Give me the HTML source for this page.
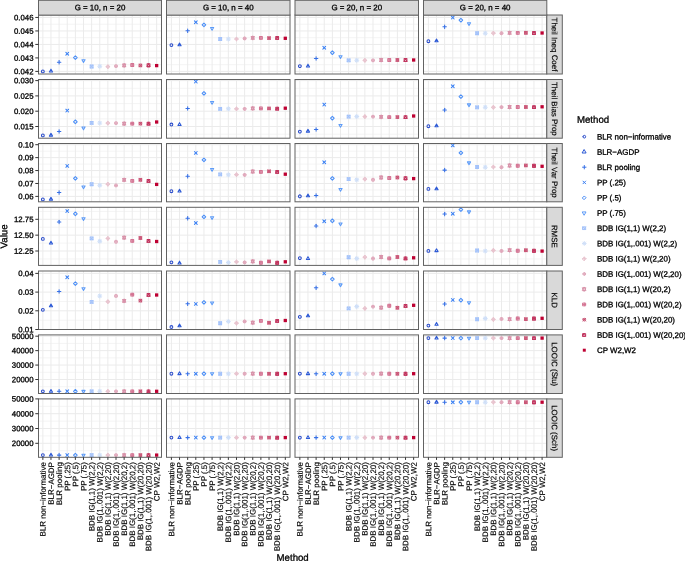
<!DOCTYPE html><html><head><meta charset="utf-8"><style>html,body{margin:0;padding:0;background:#fff;}svg{display:block;font-family:"Liberation Sans", sans-serif;text-rendering:geometricPrecision;will-change:transform;}text{stroke-width:0.3px;}</style></head><body>
<svg width="685" height="561" viewBox="0 0 685 561">
<rect width="685" height="561" fill="#fff"/>
<rect x="38.5" y="15.0" width="123.00" height="59.00" fill="#fff"/>
<path d="M38.50 64.66H161.50M38.50 51.17H161.50M38.50 37.68H161.50M38.50 24.19H161.50" stroke="#EBEBEB" stroke-width="0.55" fill="none"/>
<path d="M38.50 71.40H161.50M38.50 57.91H161.50M38.50 44.43H161.50M38.50 30.94H161.50M38.50 17.45H161.50M42.85 15.00V74.00M50.98 15.00V74.00M59.11 15.00V74.00M67.24 15.00V74.00M75.36 15.00V74.00M83.49 15.00V74.00M91.62 15.00V74.00M99.75 15.00V74.00M107.88 15.00V74.00M116.01 15.00V74.00M124.14 15.00V74.00M132.26 15.00V74.00M140.39 15.00V74.00M148.52 15.00V74.00M156.65 15.00V74.00" stroke="#EBEBEB" stroke-width="1.0" fill="none"/>
<g fill="none" stroke-width="1.05" stroke-linecap="round" stroke-linejoin="round">
<path d="M41.45 71.40a1.40 1.40 0 1 0 2.80 0a1.40 1.40 0 1 0 -2.80 0" stroke="#2A4CCB"/>
<path d="M50.98 69.15L52.58 71.93L49.38 71.93Z" stroke="#2D5AD6"/>
<g stroke="#3670E6"><path d="M57.38 62.30L60.83 62.30"/><path d="M59.11 60.58L59.11 64.02"/></g>
<g stroke="#3A80F4"><path d="M65.84 52.40L68.64 55.20"/><path d="M65.84 55.20L68.64 52.40"/></g>
<path d="M73.54 57.60L75.36 55.78L77.19 57.60L75.36 59.42Z" stroke="#4A8EF7"/>
<path d="M83.49 62.55L85.10 59.77L81.89 59.77Z" stroke="#5E9CF8"/>
<g stroke="#A3C2FA"><path d="M90.22 65.10L93.02 65.10L93.02 67.90L90.22 67.90Z"/><path d="M90.22 65.10L93.02 67.90"/><path d="M90.22 67.90L93.02 65.10"/></g>
<g stroke="#CFDFF8"><path d="M98.35 64.90L101.15 67.70"/><path d="M98.35 67.70L101.15 64.90"/><path d="M97.77 66.30L101.73 66.30"/><path d="M99.75 64.32L99.75 68.28"/></g>
<g stroke="#E8C3CE"><path d="M106.14 66.70L107.88 64.96L109.62 66.70L107.88 68.44Z"/><path d="M106.14 66.70L109.62 66.70"/><path d="M107.88 64.96L107.88 68.44"/></g>
<g stroke="#E0A8BB"><path d="M114.61 66.10a1.40 1.40 0 1 0 2.80 0a1.40 1.40 0 1 0 -2.80 0"/><path d="M114.61 66.10L117.41 66.10"/><path d="M116.01 64.70L116.01 67.50"/></g>
<g stroke="#D892A9"><path d="M124.14 63.55L125.74 66.79L122.53 66.79Z"/><path d="M124.14 67.25L125.74 64.01L122.53 64.01Z"/></g>
<g stroke="#D47493"><path d="M130.86 63.60L133.66 63.60L133.66 66.40L130.86 66.40Z"/><path d="M130.86 65.00L133.66 65.00"/><path d="M132.26 63.60L132.26 66.40"/></g>
<g stroke="#C95475"><path d="M138.99 65.40a1.40 1.40 0 1 0 2.80 0a1.40 1.40 0 1 0 -2.80 0"/><path d="M138.99 64.00L141.79 66.80"/><path d="M138.99 66.80L141.79 64.00"/></g>
<g stroke="#C1345E"><path d="M147.12 63.80L149.92 63.80L149.92 66.60L147.12 66.60Z"/><path d="M148.52 63.80L149.92 66.60L147.12 66.60Z"/></g>
<rect x="155.00" y="63.95" width="3.30" height="3.30" fill="#BE0032"/>
</g>
<rect x="38.5" y="15.0" width="123.00" height="59.00" fill="none" stroke="#626262" stroke-width="1"/>
<rect x="166.5" y="15.0" width="123.50" height="59.00" fill="#fff"/>
<path d="M166.50 64.66H290.00M166.50 51.17H290.00M166.50 37.68H290.00M166.50 24.19H290.00" stroke="#EBEBEB" stroke-width="0.55" fill="none"/>
<path d="M166.50 71.40H290.00M166.50 57.91H290.00M166.50 44.43H290.00M166.50 30.94H290.00M166.50 17.45H290.00M171.40 15.00V74.00M179.54 15.00V74.00M187.67 15.00V74.00M195.81 15.00V74.00M203.94 15.00V74.00M212.08 15.00V74.00M220.21 15.00V74.00M228.35 15.00V74.00M236.49 15.00V74.00M244.62 15.00V74.00M252.76 15.00V74.00M260.89 15.00V74.00M269.03 15.00V74.00M277.16 15.00V74.00M285.30 15.00V74.00" stroke="#EBEBEB" stroke-width="1.0" fill="none"/>
<g fill="none" stroke-width="1.05" stroke-linecap="round" stroke-linejoin="round">
<path d="M170.00 45.10a1.40 1.40 0 1 0 2.80 0a1.40 1.40 0 1 0 -2.80 0" stroke="#2A4CCB"/>
<path d="M179.54 42.95L181.14 45.73L177.93 45.73Z" stroke="#2D5AD6"/>
<g stroke="#3670E6"><path d="M185.95 30.70L189.39 30.70"/><path d="M187.67 28.98L187.67 32.42"/></g>
<g stroke="#3A80F4"><path d="M194.41 20.90L197.21 23.70"/><path d="M194.41 23.70L197.21 20.90"/></g>
<path d="M202.12 24.90L203.94 23.08L205.76 24.90L203.94 26.72Z" stroke="#4A8EF7"/>
<path d="M212.08 30.35L213.68 27.57L210.48 27.57Z" stroke="#5E9CF8"/>
<g stroke="#A3C2FA"><path d="M218.81 37.60L221.61 37.60L221.61 40.40L218.81 40.40Z"/><path d="M218.81 37.60L221.61 40.40"/><path d="M218.81 40.40L221.61 37.60"/></g>
<g stroke="#CFDFF8"><path d="M226.95 37.60L229.75 40.40"/><path d="M226.95 40.40L229.75 37.60"/><path d="M226.37 39.00L230.33 39.00"/><path d="M228.35 37.02L228.35 40.98"/></g>
<g stroke="#E8C3CE"><path d="M234.74 39.00L236.49 37.26L238.23 39.00L236.49 40.74Z"/><path d="M234.74 39.00L238.23 39.00"/><path d="M236.49 37.26L236.49 40.74"/></g>
<g stroke="#E0A8BB"><path d="M243.22 38.40a1.40 1.40 0 1 0 2.80 0a1.40 1.40 0 1 0 -2.80 0"/><path d="M243.22 38.40L246.02 38.40"/><path d="M244.62 37.00L244.62 39.80"/></g>
<g stroke="#D892A9"><path d="M252.76 36.05L254.36 39.29L251.15 39.29Z"/><path d="M252.76 39.75L254.36 36.51L251.15 36.51Z"/></g>
<g stroke="#D47493"><path d="M259.49 36.50L262.29 36.50L262.29 39.30L259.49 39.30Z"/><path d="M259.49 37.90L262.29 37.90"/><path d="M260.89 36.50L260.89 39.30"/></g>
<g stroke="#C95475"><path d="M267.63 38.10a1.40 1.40 0 1 0 2.80 0a1.40 1.40 0 1 0 -2.80 0"/><path d="M267.63 36.70L270.43 39.50"/><path d="M267.63 39.50L270.43 36.70"/></g>
<g stroke="#C1345E"><path d="M275.76 36.50L278.56 36.50L278.56 39.30L275.76 39.30Z"/><path d="M277.16 36.50L278.56 39.30L275.76 39.30Z"/></g>
<rect x="283.65" y="36.65" width="3.30" height="3.30" fill="#BE0032"/>
</g>
<rect x="166.5" y="15.0" width="123.50" height="59.00" fill="none" stroke="#626262" stroke-width="1"/>
<rect x="295.0" y="15.0" width="123.50" height="59.00" fill="#fff"/>
<path d="M295.00 64.66H418.50M295.00 51.17H418.50M295.00 37.68H418.50M295.00 24.19H418.50" stroke="#EBEBEB" stroke-width="0.55" fill="none"/>
<path d="M295.00 71.40H418.50M295.00 57.91H418.50M295.00 44.43H418.50M295.00 30.94H418.50M295.00 17.45H418.50M299.85 15.00V74.00M307.98 15.00V74.00M316.11 15.00V74.00M324.24 15.00V74.00M332.36 15.00V74.00M340.49 15.00V74.00M348.62 15.00V74.00M356.75 15.00V74.00M364.88 15.00V74.00M373.01 15.00V74.00M381.14 15.00V74.00M389.26 15.00V74.00M397.39 15.00V74.00M405.52 15.00V74.00M413.65 15.00V74.00" stroke="#EBEBEB" stroke-width="1.0" fill="none"/>
<g fill="none" stroke-width="1.05" stroke-linecap="round" stroke-linejoin="round">
<path d="M298.45 66.10a1.40 1.40 0 1 0 2.80 0a1.40 1.40 0 1 0 -2.80 0" stroke="#2A4CCB"/>
<path d="M307.98 64.15L309.58 66.93L306.38 66.93Z" stroke="#2D5AD6"/>
<g stroke="#3670E6"><path d="M314.38 58.40L317.83 58.40"/><path d="M316.11 56.68L316.11 60.12"/></g>
<g stroke="#3A80F4"><path d="M322.84 46.30L325.64 49.10"/><path d="M322.84 49.10L325.64 46.30"/></g>
<path d="M330.54 52.70L332.36 50.88L334.19 52.70L332.36 54.52Z" stroke="#4A8EF7"/>
<path d="M340.49 58.55L342.10 55.77L338.89 55.77Z" stroke="#5E9CF8"/>
<g stroke="#A3C2FA"><path d="M347.22 58.90L350.02 58.90L350.02 61.70L347.22 61.70Z"/><path d="M347.22 58.90L350.02 61.70"/><path d="M347.22 61.70L350.02 58.90"/></g>
<g stroke="#CFDFF8"><path d="M355.35 58.90L358.15 61.70"/><path d="M355.35 61.70L358.15 58.90"/><path d="M354.77 60.30L358.73 60.30"/><path d="M356.75 58.32L356.75 62.28"/></g>
<g stroke="#E8C3CE"><path d="M363.14 60.30L364.88 58.56L366.62 60.30L364.88 62.04Z"/><path d="M363.14 60.30L366.62 60.30"/><path d="M364.88 58.56L364.88 62.04"/></g>
<g stroke="#E0A8BB"><path d="M371.61 60.30a1.40 1.40 0 1 0 2.80 0a1.40 1.40 0 1 0 -2.80 0"/><path d="M371.61 60.30L374.41 60.30"/><path d="M373.01 58.90L373.01 61.70"/></g>
<g stroke="#D892A9"><path d="M381.14 58.15L382.74 61.39L379.53 61.39Z"/><path d="M381.14 61.85L382.74 58.61L379.53 58.61Z"/></g>
<g stroke="#D47493"><path d="M387.86 58.60L390.66 58.60L390.66 61.40L387.86 61.40Z"/><path d="M387.86 60.00L390.66 60.00"/><path d="M389.26 58.60L389.26 61.40"/></g>
<g stroke="#C95475"><path d="M395.99 60.00a1.40 1.40 0 1 0 2.80 0a1.40 1.40 0 1 0 -2.80 0"/><path d="M395.99 58.60L398.79 61.40"/><path d="M395.99 61.40L398.79 58.60"/></g>
<g stroke="#C1345E"><path d="M404.12 58.60L406.92 58.60L406.92 61.40L404.12 61.40Z"/><path d="M405.52 58.60L406.92 61.40L404.12 61.40Z"/></g>
<rect x="412.00" y="58.35" width="3.30" height="3.30" fill="#BE0032"/>
</g>
<rect x="295.0" y="15.0" width="123.50" height="59.00" fill="none" stroke="#626262" stroke-width="1"/>
<rect x="423.5" y="15.0" width="123.30" height="59.00" fill="#fff"/>
<path d="M423.50 64.66H546.80M423.50 51.17H546.80M423.50 37.68H546.80M423.50 24.19H546.80" stroke="#EBEBEB" stroke-width="0.55" fill="none"/>
<path d="M423.50 71.40H546.80M423.50 57.91H546.80M423.50 44.43H546.80M423.50 30.94H546.80M423.50 17.45H546.80M428.40 15.00V74.00M436.52 15.00V74.00M444.64 15.00V74.00M452.76 15.00V74.00M460.89 15.00V74.00M469.01 15.00V74.00M477.13 15.00V74.00M485.25 15.00V74.00M493.37 15.00V74.00M501.49 15.00V74.00M509.61 15.00V74.00M517.74 15.00V74.00M525.86 15.00V74.00M533.98 15.00V74.00M542.10 15.00V74.00" stroke="#EBEBEB" stroke-width="1.0" fill="none"/>
<g fill="none" stroke-width="1.05" stroke-linecap="round" stroke-linejoin="round">
<path d="M427.00 41.20a1.40 1.40 0 1 0 2.80 0a1.40 1.40 0 1 0 -2.80 0" stroke="#2A4CCB"/>
<path d="M436.52 38.95L438.12 41.73L434.92 41.73Z" stroke="#2D5AD6"/>
<g stroke="#3670E6"><path d="M442.92 26.70L446.37 26.70"/><path d="M444.64 24.98L444.64 28.42"/></g>
<g stroke="#3A80F4"><path d="M451.36 16.20L454.16 19.00"/><path d="M451.36 19.00L454.16 16.20"/></g>
<path d="M459.06 20.20L460.89 18.38L462.71 20.20L460.89 22.02Z" stroke="#4A8EF7"/>
<path d="M469.01 25.45L470.61 22.67L467.40 22.67Z" stroke="#5E9CF8"/>
<g stroke="#A3C2FA"><path d="M475.73 31.80L478.53 31.80L478.53 34.60L475.73 34.60Z"/><path d="M475.73 31.80L478.53 34.60"/><path d="M475.73 34.60L478.53 31.80"/></g>
<g stroke="#CFDFF8"><path d="M483.85 31.80L486.65 34.60"/><path d="M483.85 34.60L486.65 31.80"/><path d="M483.27 33.20L487.23 33.20"/><path d="M485.25 31.22L485.25 35.18"/></g>
<g stroke="#E8C3CE"><path d="M491.63 33.20L493.37 31.46L495.11 33.20L493.37 34.94Z"/><path d="M491.63 33.20L495.11 33.20"/><path d="M493.37 31.46L493.37 34.94"/></g>
<g stroke="#E0A8BB"><path d="M500.09 33.20a1.40 1.40 0 1 0 2.80 0a1.40 1.40 0 1 0 -2.80 0"/><path d="M500.09 33.20L502.89 33.20"/><path d="M501.49 31.80L501.49 34.60"/></g>
<g stroke="#D892A9"><path d="M509.61 30.95L511.22 34.19L508.01 34.19Z"/><path d="M509.61 34.65L511.22 31.41L508.01 31.41Z"/></g>
<g stroke="#D47493"><path d="M516.34 31.40L519.14 31.40L519.14 34.20L516.34 34.20Z"/><path d="M516.34 32.80L519.14 32.80"/><path d="M517.74 31.40L517.74 34.20"/></g>
<g stroke="#C95475"><path d="M524.46 32.80a1.40 1.40 0 1 0 2.80 0a1.40 1.40 0 1 0 -2.80 0"/><path d="M524.46 31.40L527.26 34.20"/><path d="M524.46 34.20L527.26 31.40"/></g>
<g stroke="#C1345E"><path d="M532.58 31.60L535.38 31.60L535.38 34.40L532.58 34.40Z"/><path d="M533.98 31.60L535.38 34.40L532.58 34.40Z"/></g>
<rect x="540.45" y="31.35" width="3.30" height="3.30" fill="#BE0032"/>
</g>
<rect x="423.5" y="15.0" width="123.30" height="59.00" fill="none" stroke="#626262" stroke-width="1"/>
<text transform="translate(33.50,74.15) rotate(0.1)" font-size="7.8" fill="#000000" stroke="#000000" text-anchor="end">0.042</text>
<text transform="translate(33.50,60.66) rotate(0.1)" font-size="7.8" fill="#000000" stroke="#000000" text-anchor="end">0.043</text>
<text transform="translate(33.50,47.18) rotate(0.1)" font-size="7.8" fill="#000000" stroke="#000000" text-anchor="end">0.044</text>
<text transform="translate(33.50,33.69) rotate(0.1)" font-size="7.8" fill="#000000" stroke="#000000" text-anchor="end">0.045</text>
<text transform="translate(33.50,20.20) rotate(0.1)" font-size="7.8" fill="#000000" stroke="#000000" text-anchor="end">0.046</text>
<path d="M35.30 71.40H38.50M35.30 57.91H38.50M35.30 44.43H38.50M35.30 30.94H38.50M35.30 17.45H38.50" stroke="#333333" stroke-width="1" fill="none"/>
<rect x="546.8" y="15.0" width="15.50" height="59.00" fill="#D9D9D9" stroke="#626262" stroke-width="1"/>
<text transform="translate(551.85,44.50) rotate(89.8)" font-size="7.95" fill="#000000" stroke="#000000" style="stroke-width:0.15px" text-anchor="middle">Theil Ineq Coef</text>
<rect x="38.5" y="79.5" width="123.00" height="58.70" fill="#fff"/>
<path d="M38.50 134.15H161.50M38.50 118.85H161.50M38.50 103.55H161.50M38.50 88.25H161.50" stroke="#EBEBEB" stroke-width="0.55" fill="none"/>
<path d="M38.50 126.50H161.50M38.50 111.20H161.50M38.50 95.90H161.50M38.50 80.60H161.50M42.85 79.50V138.20M50.98 79.50V138.20M59.11 79.50V138.20M67.24 79.50V138.20M75.36 79.50V138.20M83.49 79.50V138.20M91.62 79.50V138.20M99.75 79.50V138.20M107.88 79.50V138.20M116.01 79.50V138.20M124.14 79.50V138.20M132.26 79.50V138.20M140.39 79.50V138.20M148.52 79.50V138.20M156.65 79.50V138.20" stroke="#EBEBEB" stroke-width="1.0" fill="none"/>
<g fill="none" stroke-width="1.05" stroke-linecap="round" stroke-linejoin="round">
<path d="M41.45 135.40a1.40 1.40 0 1 0 2.80 0a1.40 1.40 0 1 0 -2.80 0" stroke="#2A4CCB"/>
<path d="M50.98 133.35L52.58 136.13L49.38 136.13Z" stroke="#2D5AD6"/>
<g stroke="#3670E6"><path d="M57.38 131.40L60.83 131.40"/><path d="M59.11 129.68L59.11 133.12"/></g>
<g stroke="#3A80F4"><path d="M65.84 109.20L68.64 112.00"/><path d="M65.84 112.00L68.64 109.20"/></g>
<path d="M73.54 121.80L75.36 119.98L77.19 121.80L75.36 123.62Z" stroke="#4A8EF7"/>
<path d="M83.49 129.85L85.10 127.07L81.89 127.07Z" stroke="#5E9CF8"/>
<g stroke="#A3C2FA"><path d="M90.22 121.50L93.02 121.50L93.02 124.30L90.22 124.30Z"/><path d="M90.22 121.50L93.02 124.30"/><path d="M90.22 124.30L93.02 121.50"/></g>
<g stroke="#CFDFF8"><path d="M98.35 121.50L101.15 124.30"/><path d="M98.35 124.30L101.15 121.50"/><path d="M97.77 122.90L101.73 122.90"/><path d="M99.75 120.92L99.75 124.88"/></g>
<g stroke="#E8C3CE"><path d="M106.14 123.10L107.88 121.36L109.62 123.10L107.88 124.84Z"/><path d="M106.14 123.10L109.62 123.10"/><path d="M107.88 121.36L107.88 124.84"/></g>
<g stroke="#E0A8BB"><path d="M114.61 123.10a1.40 1.40 0 1 0 2.80 0a1.40 1.40 0 1 0 -2.80 0"/><path d="M114.61 123.10L117.41 123.10"/><path d="M116.01 121.70L116.01 124.50"/></g>
<g stroke="#D892A9"><path d="M124.14 121.75L125.74 124.99L122.53 124.99Z"/><path d="M124.14 125.45L125.74 122.21L122.53 122.21Z"/></g>
<g stroke="#D47493"><path d="M130.86 122.20L133.66 122.20L133.66 125.00L130.86 125.00Z"/><path d="M130.86 123.60L133.66 123.60"/><path d="M132.26 122.20L132.26 125.00"/></g>
<g stroke="#C95475"><path d="M138.99 123.60a1.40 1.40 0 1 0 2.80 0a1.40 1.40 0 1 0 -2.80 0"/><path d="M138.99 122.20L141.79 125.00"/><path d="M138.99 125.00L141.79 122.20"/></g>
<g stroke="#C1345E"><path d="M147.12 122.20L149.92 122.20L149.92 125.00L147.12 125.00Z"/><path d="M148.52 122.20L149.92 125.00L147.12 125.00Z"/></g>
<rect x="155.00" y="120.35" width="3.30" height="3.30" fill="#BE0032"/>
</g>
<rect x="38.5" y="79.5" width="123.00" height="58.70" fill="none" stroke="#626262" stroke-width="1"/>
<rect x="166.5" y="79.5" width="123.50" height="58.70" fill="#fff"/>
<path d="M166.50 134.15H290.00M166.50 118.85H290.00M166.50 103.55H290.00M166.50 88.25H290.00" stroke="#EBEBEB" stroke-width="0.55" fill="none"/>
<path d="M166.50 126.50H290.00M166.50 111.20H290.00M166.50 95.90H290.00M166.50 80.60H290.00M171.40 79.50V138.20M179.54 79.50V138.20M187.67 79.50V138.20M195.81 79.50V138.20M203.94 79.50V138.20M212.08 79.50V138.20M220.21 79.50V138.20M228.35 79.50V138.20M236.49 79.50V138.20M244.62 79.50V138.20M252.76 79.50V138.20M260.89 79.50V138.20M269.03 79.50V138.20M277.16 79.50V138.20M285.30 79.50V138.20" stroke="#EBEBEB" stroke-width="1.0" fill="none"/>
<g fill="none" stroke-width="1.05" stroke-linecap="round" stroke-linejoin="round">
<path d="M170.00 124.50a1.40 1.40 0 1 0 2.80 0a1.40 1.40 0 1 0 -2.80 0" stroke="#2A4CCB"/>
<path d="M179.54 122.65L181.14 125.43L177.93 125.43Z" stroke="#2D5AD6"/>
<g stroke="#3670E6"><path d="M185.95 108.40L189.39 108.40"/><path d="M187.67 106.68L187.67 110.12"/></g>
<g stroke="#3A80F4"><path d="M194.41 80.20L197.21 83.00"/><path d="M194.41 83.00L197.21 80.20"/></g>
<path d="M202.12 93.40L203.94 91.58L205.76 93.40L203.94 95.22Z" stroke="#4A8EF7"/>
<path d="M212.08 104.25L213.68 101.47L210.48 101.47Z" stroke="#5E9CF8"/>
<g stroke="#A3C2FA"><path d="M218.81 107.40L221.61 107.40L221.61 110.20L218.81 110.20Z"/><path d="M218.81 107.40L221.61 110.20"/><path d="M218.81 110.20L221.61 107.40"/></g>
<g stroke="#CFDFF8"><path d="M226.95 107.40L229.75 110.20"/><path d="M226.95 110.20L229.75 107.40"/><path d="M226.37 108.80L230.33 108.80"/><path d="M228.35 106.82L228.35 110.78"/></g>
<g stroke="#E8C3CE"><path d="M234.74 108.80L236.49 107.06L238.23 108.80L236.49 110.54Z"/><path d="M234.74 108.80L238.23 108.80"/><path d="M236.49 107.06L236.49 110.54"/></g>
<g stroke="#E0A8BB"><path d="M243.22 108.80a1.40 1.40 0 1 0 2.80 0a1.40 1.40 0 1 0 -2.80 0"/><path d="M243.22 108.80L246.02 108.80"/><path d="M244.62 107.40L244.62 110.20"/></g>
<g stroke="#D892A9"><path d="M252.76 106.55L254.36 109.79L251.15 109.79Z"/><path d="M252.76 110.25L254.36 107.01L251.15 107.01Z"/></g>
<g stroke="#D47493"><path d="M259.49 107.00L262.29 107.00L262.29 109.80L259.49 109.80Z"/><path d="M259.49 108.40L262.29 108.40"/><path d="M260.89 107.00L260.89 109.80"/></g>
<g stroke="#C95475"><path d="M267.63 108.40a1.40 1.40 0 1 0 2.80 0a1.40 1.40 0 1 0 -2.80 0"/><path d="M267.63 107.00L270.43 109.80"/><path d="M267.63 109.80L270.43 107.00"/></g>
<g stroke="#C1345E"><path d="M275.76 107.20L278.56 107.20L278.56 110.00L275.76 110.00Z"/><path d="M277.16 107.20L278.56 110.00L275.76 110.00Z"/></g>
<rect x="283.65" y="106.55" width="3.30" height="3.30" fill="#BE0032"/>
</g>
<rect x="166.5" y="79.5" width="123.50" height="58.70" fill="none" stroke="#626262" stroke-width="1"/>
<rect x="295.0" y="79.5" width="123.50" height="58.70" fill="#fff"/>
<path d="M295.00 134.15H418.50M295.00 118.85H418.50M295.00 103.55H418.50M295.00 88.25H418.50" stroke="#EBEBEB" stroke-width="0.55" fill="none"/>
<path d="M295.00 126.50H418.50M295.00 111.20H418.50M295.00 95.90H418.50M295.00 80.60H418.50M299.85 79.50V138.20M307.98 79.50V138.20M316.11 79.50V138.20M324.24 79.50V138.20M332.36 79.50V138.20M340.49 79.50V138.20M348.62 79.50V138.20M356.75 79.50V138.20M364.88 79.50V138.20M373.01 79.50V138.20M381.14 79.50V138.20M389.26 79.50V138.20M397.39 79.50V138.20M405.52 79.50V138.20M413.65 79.50V138.20" stroke="#EBEBEB" stroke-width="1.0" fill="none"/>
<g fill="none" stroke-width="1.05" stroke-linecap="round" stroke-linejoin="round">
<path d="M298.45 131.60a1.40 1.40 0 1 0 2.80 0a1.40 1.40 0 1 0 -2.80 0" stroke="#2A4CCB"/>
<path d="M307.98 129.35L309.58 132.13L306.38 132.13Z" stroke="#2D5AD6"/>
<g stroke="#3670E6"><path d="M314.38 129.40L317.83 129.40"/><path d="M316.11 127.68L316.11 131.12"/></g>
<g stroke="#3A80F4"><path d="M322.84 103.20L325.64 106.00"/><path d="M322.84 106.00L325.64 103.20"/></g>
<path d="M330.54 118.20L332.36 116.38L334.19 118.20L332.36 120.02Z" stroke="#4A8EF7"/>
<path d="M340.49 127.25L342.10 124.47L338.89 124.47Z" stroke="#5E9CF8"/>
<g stroke="#A3C2FA"><path d="M347.22 115.20L350.02 115.20L350.02 118.00L347.22 118.00Z"/><path d="M347.22 115.20L350.02 118.00"/><path d="M347.22 118.00L350.02 115.20"/></g>
<g stroke="#CFDFF8"><path d="M355.35 115.20L358.15 118.00"/><path d="M355.35 118.00L358.15 115.20"/><path d="M354.77 116.60L358.73 116.60"/><path d="M356.75 114.62L356.75 118.58"/></g>
<g stroke="#E8C3CE"><path d="M363.14 116.60L364.88 114.86L366.62 116.60L364.88 118.34Z"/><path d="M363.14 116.60L366.62 116.60"/><path d="M364.88 114.86L364.88 118.34"/></g>
<g stroke="#E0A8BB"><path d="M371.61 116.60a1.40 1.40 0 1 0 2.80 0a1.40 1.40 0 1 0 -2.80 0"/><path d="M371.61 116.60L374.41 116.60"/><path d="M373.01 115.20L373.01 118.00"/></g>
<g stroke="#D892A9"><path d="M381.14 115.05L382.74 118.29L379.53 118.29Z"/><path d="M381.14 118.75L382.74 115.51L379.53 115.51Z"/></g>
<g stroke="#D47493"><path d="M387.86 115.70L390.66 115.70L390.66 118.50L387.86 118.50Z"/><path d="M387.86 117.10L390.66 117.10"/><path d="M389.26 115.70L389.26 118.50"/></g>
<g stroke="#C95475"><path d="M395.99 117.10a1.40 1.40 0 1 0 2.80 0a1.40 1.40 0 1 0 -2.80 0"/><path d="M395.99 115.70L398.79 118.50"/><path d="M395.99 118.50L398.79 115.70"/></g>
<g stroke="#C1345E"><path d="M404.12 115.70L406.92 115.70L406.92 118.50L404.12 118.50Z"/><path d="M405.52 115.70L406.92 118.50L404.12 118.50Z"/></g>
<rect x="412.00" y="114.35" width="3.30" height="3.30" fill="#BE0032"/>
</g>
<rect x="295.0" y="79.5" width="123.50" height="58.70" fill="none" stroke="#626262" stroke-width="1"/>
<rect x="423.5" y="79.5" width="123.30" height="58.70" fill="#fff"/>
<path d="M423.50 134.15H546.80M423.50 118.85H546.80M423.50 103.55H546.80M423.50 88.25H546.80" stroke="#EBEBEB" stroke-width="0.55" fill="none"/>
<path d="M423.50 126.50H546.80M423.50 111.20H546.80M423.50 95.90H546.80M423.50 80.60H546.80M428.40 79.50V138.20M436.52 79.50V138.20M444.64 79.50V138.20M452.76 79.50V138.20M460.89 79.50V138.20M469.01 79.50V138.20M477.13 79.50V138.20M485.25 79.50V138.20M493.37 79.50V138.20M501.49 79.50V138.20M509.61 79.50V138.20M517.74 79.50V138.20M525.86 79.50V138.20M533.98 79.50V138.20M542.10 79.50V138.20" stroke="#EBEBEB" stroke-width="1.0" fill="none"/>
<g fill="none" stroke-width="1.05" stroke-linecap="round" stroke-linejoin="round">
<path d="M427.00 126.20a1.40 1.40 0 1 0 2.80 0a1.40 1.40 0 1 0 -2.80 0" stroke="#2A4CCB"/>
<path d="M436.52 123.95L438.12 126.73L434.92 126.73Z" stroke="#2D5AD6"/>
<g stroke="#3670E6"><path d="M442.92 110.00L446.37 110.00"/><path d="M444.64 108.28L444.64 111.72"/></g>
<g stroke="#3A80F4"><path d="M451.36 84.90L454.16 87.70"/><path d="M451.36 87.70L454.16 84.90"/></g>
<path d="M459.06 96.60L460.89 94.78L462.71 96.60L460.89 98.42Z" stroke="#4A8EF7"/>
<path d="M469.01 106.65L470.61 103.87L467.40 103.87Z" stroke="#5E9CF8"/>
<g stroke="#A3C2FA"><path d="M475.73 105.90L478.53 105.90L478.53 108.70L475.73 108.70Z"/><path d="M475.73 105.90L478.53 108.70"/><path d="M475.73 108.70L478.53 105.90"/></g>
<g stroke="#CFDFF8"><path d="M483.85 105.90L486.65 108.70"/><path d="M483.85 108.70L486.65 105.90"/><path d="M483.27 107.30L487.23 107.30"/><path d="M485.25 105.32L485.25 109.28"/></g>
<g stroke="#E8C3CE"><path d="M491.63 107.30L493.37 105.56L495.11 107.30L493.37 109.04Z"/><path d="M491.63 107.30L495.11 107.30"/><path d="M493.37 105.56L493.37 109.04"/></g>
<g stroke="#E0A8BB"><path d="M500.09 107.10a1.40 1.40 0 1 0 2.80 0a1.40 1.40 0 1 0 -2.80 0"/><path d="M500.09 107.10L502.89 107.10"/><path d="M501.49 105.70L501.49 108.50"/></g>
<g stroke="#D892A9"><path d="M509.61 105.15L511.22 108.39L508.01 108.39Z"/><path d="M509.61 108.85L511.22 105.61L508.01 105.61Z"/></g>
<g stroke="#D47493"><path d="M516.34 105.60L519.14 105.60L519.14 108.40L516.34 108.40Z"/><path d="M516.34 107.00L519.14 107.00"/><path d="M517.74 105.60L517.74 108.40"/></g>
<g stroke="#C95475"><path d="M524.46 107.00a1.40 1.40 0 1 0 2.80 0a1.40 1.40 0 1 0 -2.80 0"/><path d="M524.46 105.60L527.26 108.40"/><path d="M524.46 108.40L527.26 105.60"/></g>
<g stroke="#C1345E"><path d="M532.58 105.70L535.38 105.70L535.38 108.50L532.58 108.50Z"/><path d="M533.98 105.70L535.38 108.50L532.58 108.50Z"/></g>
<rect x="540.45" y="105.15" width="3.30" height="3.30" fill="#BE0032"/>
</g>
<rect x="423.5" y="79.5" width="123.30" height="58.70" fill="none" stroke="#626262" stroke-width="1"/>
<text transform="translate(33.50,129.25) rotate(0.1)" font-size="7.8" fill="#000000" stroke="#000000" text-anchor="end">0.015</text>
<text transform="translate(33.50,113.95) rotate(0.1)" font-size="7.8" fill="#000000" stroke="#000000" text-anchor="end">0.020</text>
<text transform="translate(33.50,98.65) rotate(0.1)" font-size="7.8" fill="#000000" stroke="#000000" text-anchor="end">0.025</text>
<text transform="translate(33.50,83.35) rotate(0.1)" font-size="7.8" fill="#000000" stroke="#000000" text-anchor="end">0.030</text>
<path d="M35.30 126.50H38.50M35.30 111.20H38.50M35.30 95.90H38.50M35.30 80.60H38.50" stroke="#333333" stroke-width="1" fill="none"/>
<rect x="546.8" y="79.5" width="15.50" height="58.70" fill="#D9D9D9" stroke="#626262" stroke-width="1"/>
<text transform="translate(551.85,108.85) rotate(89.8)" font-size="7.95" fill="#000000" stroke="#000000" style="stroke-width:0.15px" text-anchor="middle">Theil Bias Prop</text>
<rect x="38.5" y="143.5" width="123.00" height="58.30" fill="#fff"/>
<path d="M38.50 189.94H161.50M38.50 177.01H161.50M38.50 164.09H161.50M38.50 151.16H161.50" stroke="#EBEBEB" stroke-width="0.55" fill="none"/>
<path d="M38.50 196.40H161.50M38.50 183.47H161.50M38.50 170.55H161.50M38.50 157.62H161.50M38.50 144.70H161.50M42.85 143.50V201.80M50.98 143.50V201.80M59.11 143.50V201.80M67.24 143.50V201.80M75.36 143.50V201.80M83.49 143.50V201.80M91.62 143.50V201.80M99.75 143.50V201.80M107.88 143.50V201.80M116.01 143.50V201.80M124.14 143.50V201.80M132.26 143.50V201.80M140.39 143.50V201.80M148.52 143.50V201.80M156.65 143.50V201.80" stroke="#EBEBEB" stroke-width="1.0" fill="none"/>
<g fill="none" stroke-width="1.05" stroke-linecap="round" stroke-linejoin="round">
<path d="M41.45 199.40a1.40 1.40 0 1 0 2.80 0a1.40 1.40 0 1 0 -2.80 0" stroke="#2A4CCB"/>
<path d="M50.98 197.35L52.58 200.13L49.38 200.13Z" stroke="#2D5AD6"/>
<g stroke="#3670E6"><path d="M57.38 192.50L60.83 192.50"/><path d="M59.11 190.78L59.11 194.22"/></g>
<g stroke="#3A80F4"><path d="M65.84 164.50L68.64 167.30"/><path d="M65.84 167.30L68.64 164.50"/></g>
<path d="M73.54 178.40L75.36 176.58L77.19 178.40L75.36 180.22Z" stroke="#4A8EF7"/>
<path d="M83.49 188.75L85.10 185.97L81.89 185.97Z" stroke="#5E9CF8"/>
<g stroke="#A3C2FA"><path d="M90.22 182.80L93.02 182.80L93.02 185.60L90.22 185.60Z"/><path d="M90.22 182.80L93.02 185.60"/><path d="M90.22 185.60L93.02 182.80"/></g>
<g stroke="#CFDFF8"><path d="M98.35 183.90L101.15 186.70"/><path d="M98.35 186.70L101.15 183.90"/><path d="M97.77 185.30L101.73 185.30"/><path d="M99.75 183.32L99.75 187.28"/></g>
<g stroke="#E8C3CE"><path d="M106.14 184.20L107.88 182.46L109.62 184.20L107.88 185.94Z"/><path d="M106.14 184.20L109.62 184.20"/><path d="M107.88 182.46L107.88 185.94"/></g>
<g stroke="#E0A8BB"><path d="M114.61 185.40a1.40 1.40 0 1 0 2.80 0a1.40 1.40 0 1 0 -2.80 0"/><path d="M114.61 185.40L117.41 185.40"/><path d="M116.01 184.00L116.01 186.80"/></g>
<g stroke="#D892A9"><path d="M124.14 177.95L125.74 181.19L122.53 181.19Z"/><path d="M124.14 181.65L125.74 178.41L122.53 178.41Z"/></g>
<g stroke="#D47493"><path d="M130.86 179.50L133.66 179.50L133.66 182.30L130.86 182.30Z"/><path d="M130.86 180.90L133.66 180.90"/><path d="M132.26 179.50L132.26 182.30"/></g>
<g stroke="#C95475"><path d="M138.99 179.80a1.40 1.40 0 1 0 2.80 0a1.40 1.40 0 1 0 -2.80 0"/><path d="M138.99 178.40L141.79 181.20"/><path d="M138.99 181.20L141.79 178.40"/></g>
<g stroke="#C1345E"><path d="M147.12 179.50L149.92 179.50L149.92 182.30L147.12 182.30Z"/><path d="M148.52 179.50L149.92 182.30L147.12 182.30Z"/></g>
<rect x="155.00" y="182.75" width="3.30" height="3.30" fill="#BE0032"/>
</g>
<rect x="38.5" y="143.5" width="123.00" height="58.30" fill="none" stroke="#626262" stroke-width="1"/>
<rect x="166.5" y="143.5" width="123.50" height="58.30" fill="#fff"/>
<path d="M166.50 189.94H290.00M166.50 177.01H290.00M166.50 164.09H290.00M166.50 151.16H290.00" stroke="#EBEBEB" stroke-width="0.55" fill="none"/>
<path d="M166.50 196.40H290.00M166.50 183.47H290.00M166.50 170.55H290.00M166.50 157.62H290.00M166.50 144.70H290.00M171.40 143.50V201.80M179.54 143.50V201.80M187.67 143.50V201.80M195.81 143.50V201.80M203.94 143.50V201.80M212.08 143.50V201.80M220.21 143.50V201.80M228.35 143.50V201.80M236.49 143.50V201.80M244.62 143.50V201.80M252.76 143.50V201.80M260.89 143.50V201.80M269.03 143.50V201.80M277.16 143.50V201.80M285.30 143.50V201.80" stroke="#EBEBEB" stroke-width="1.0" fill="none"/>
<g fill="none" stroke-width="1.05" stroke-linecap="round" stroke-linejoin="round">
<path d="M170.00 191.20a1.40 1.40 0 1 0 2.80 0a1.40 1.40 0 1 0 -2.80 0" stroke="#2A4CCB"/>
<path d="M179.54 189.25L181.14 192.03L177.93 192.03Z" stroke="#2D5AD6"/>
<g stroke="#3670E6"><path d="M185.95 176.20L189.39 176.20"/><path d="M187.67 174.48L187.67 177.92"/></g>
<g stroke="#3A80F4"><path d="M194.41 151.50L197.21 154.30"/><path d="M194.41 154.30L197.21 151.50"/></g>
<path d="M202.12 159.90L203.94 158.08L205.76 159.90L203.94 161.72Z" stroke="#4A8EF7"/>
<path d="M212.08 171.35L213.68 168.57L210.48 168.57Z" stroke="#5E9CF8"/>
<g stroke="#A3C2FA"><path d="M218.81 173.00L221.61 173.00L221.61 175.80L218.81 175.80Z"/><path d="M218.81 173.00L221.61 175.80"/><path d="M218.81 175.80L221.61 173.00"/></g>
<g stroke="#CFDFF8"><path d="M226.95 173.40L229.75 176.20"/><path d="M226.95 176.20L229.75 173.40"/><path d="M226.37 174.80L230.33 174.80"/><path d="M228.35 172.82L228.35 176.78"/></g>
<g stroke="#E8C3CE"><path d="M234.74 174.60L236.49 172.86L238.23 174.60L236.49 176.34Z"/><path d="M234.74 174.60L238.23 174.60"/><path d="M236.49 172.86L236.49 176.34"/></g>
<g stroke="#E0A8BB"><path d="M243.22 174.80a1.40 1.40 0 1 0 2.80 0a1.40 1.40 0 1 0 -2.80 0"/><path d="M243.22 174.80L246.02 174.80"/><path d="M244.62 173.40L244.62 176.20"/></g>
<g stroke="#D892A9"><path d="M252.76 169.65L254.36 172.89L251.15 172.89Z"/><path d="M252.76 173.35L254.36 170.11L251.15 170.11Z"/></g>
<g stroke="#D47493"><path d="M259.49 170.50L262.29 170.50L262.29 173.30L259.49 173.30Z"/><path d="M259.49 171.90L262.29 171.90"/><path d="M260.89 170.50L260.89 173.30"/></g>
<g stroke="#C95475"><path d="M267.63 171.30a1.40 1.40 0 1 0 2.80 0a1.40 1.40 0 1 0 -2.80 0"/><path d="M267.63 169.90L270.43 172.70"/><path d="M267.63 172.70L270.43 169.90"/></g>
<g stroke="#C1345E"><path d="M275.76 170.50L278.56 170.50L278.56 173.30L275.76 173.30Z"/><path d="M277.16 170.50L278.56 173.30L275.76 173.30Z"/></g>
<rect x="283.65" y="172.55" width="3.30" height="3.30" fill="#BE0032"/>
</g>
<rect x="166.5" y="143.5" width="123.50" height="58.30" fill="none" stroke="#626262" stroke-width="1"/>
<rect x="295.0" y="143.5" width="123.50" height="58.30" fill="#fff"/>
<path d="M295.00 189.94H418.50M295.00 177.01H418.50M295.00 164.09H418.50M295.00 151.16H418.50" stroke="#EBEBEB" stroke-width="0.55" fill="none"/>
<path d="M295.00 196.40H418.50M295.00 183.47H418.50M295.00 170.55H418.50M295.00 157.62H418.50M295.00 144.70H418.50M299.85 143.50V201.80M307.98 143.50V201.80M316.11 143.50V201.80M324.24 143.50V201.80M332.36 143.50V201.80M340.49 143.50V201.80M348.62 143.50V201.80M356.75 143.50V201.80M364.88 143.50V201.80M373.01 143.50V201.80M381.14 143.50V201.80M389.26 143.50V201.80M397.39 143.50V201.80M405.52 143.50V201.80M413.65 143.50V201.80" stroke="#EBEBEB" stroke-width="1.0" fill="none"/>
<g fill="none" stroke-width="1.05" stroke-linecap="round" stroke-linejoin="round">
<path d="M298.45 196.30a1.40 1.40 0 1 0 2.80 0a1.40 1.40 0 1 0 -2.80 0" stroke="#2A4CCB"/>
<path d="M307.98 194.05L309.58 196.83L306.38 196.83Z" stroke="#2D5AD6"/>
<g stroke="#3670E6"><path d="M314.38 195.40L317.83 195.40"/><path d="M316.11 193.68L316.11 197.12"/></g>
<g stroke="#3A80F4"><path d="M322.84 160.90L325.64 163.70"/><path d="M322.84 163.70L325.64 160.90"/></g>
<path d="M330.54 178.40L332.36 176.58L334.19 178.40L332.36 180.22Z" stroke="#4A8EF7"/>
<path d="M340.49 191.25L342.10 188.47L338.89 188.47Z" stroke="#5E9CF8"/>
<g stroke="#A3C2FA"><path d="M347.22 177.70L350.02 177.70L350.02 180.50L347.22 180.50Z"/><path d="M347.22 177.70L350.02 180.50"/><path d="M347.22 180.50L350.02 177.70"/></g>
<g stroke="#CFDFF8"><path d="M355.35 178.30L358.15 181.10"/><path d="M355.35 181.10L358.15 178.30"/><path d="M354.77 179.70L358.73 179.70"/><path d="M356.75 177.72L356.75 181.68"/></g>
<g stroke="#E8C3CE"><path d="M363.14 179.10L364.88 177.36L366.62 179.10L364.88 180.84Z"/><path d="M363.14 179.10L366.62 179.10"/><path d="M364.88 177.36L364.88 180.84"/></g>
<g stroke="#E0A8BB"><path d="M371.61 179.70a1.40 1.40 0 1 0 2.80 0a1.40 1.40 0 1 0 -2.80 0"/><path d="M371.61 179.70L374.41 179.70"/><path d="M373.01 178.30L373.01 181.10"/></g>
<g stroke="#D892A9"><path d="M381.14 175.65L382.74 178.89L379.53 178.89Z"/><path d="M381.14 179.35L382.74 176.11L379.53 176.11Z"/></g>
<g stroke="#D47493"><path d="M387.86 176.60L390.66 176.60L390.66 179.40L387.86 179.40Z"/><path d="M387.86 178.00L390.66 178.00"/><path d="M389.26 176.60L389.26 179.40"/></g>
<g stroke="#C95475"><path d="M395.99 177.50a1.40 1.40 0 1 0 2.80 0a1.40 1.40 0 1 0 -2.80 0"/><path d="M395.99 176.10L398.79 178.90"/><path d="M395.99 178.90L398.79 176.10"/></g>
<g stroke="#C1345E"><path d="M404.12 176.80L406.92 176.80L406.92 179.60L404.12 179.60Z"/><path d="M405.52 176.80L406.92 179.60L404.12 179.60Z"/></g>
<rect x="412.00" y="176.95" width="3.30" height="3.30" fill="#BE0032"/>
</g>
<rect x="295.0" y="143.5" width="123.50" height="58.30" fill="none" stroke="#626262" stroke-width="1"/>
<rect x="423.5" y="143.5" width="123.30" height="58.30" fill="#fff"/>
<path d="M423.50 189.94H546.80M423.50 177.01H546.80M423.50 164.09H546.80M423.50 151.16H546.80" stroke="#EBEBEB" stroke-width="0.55" fill="none"/>
<path d="M423.50 196.40H546.80M423.50 183.47H546.80M423.50 170.55H546.80M423.50 157.62H546.80M423.50 144.70H546.80M428.40 143.50V201.80M436.52 143.50V201.80M444.64 143.50V201.80M452.76 143.50V201.80M460.89 143.50V201.80M469.01 143.50V201.80M477.13 143.50V201.80M485.25 143.50V201.80M493.37 143.50V201.80M501.49 143.50V201.80M509.61 143.50V201.80M517.74 143.50V201.80M525.86 143.50V201.80M533.98 143.50V201.80M542.10 143.50V201.80" stroke="#EBEBEB" stroke-width="1.0" fill="none"/>
<g fill="none" stroke-width="1.05" stroke-linecap="round" stroke-linejoin="round">
<path d="M427.00 188.90a1.40 1.40 0 1 0 2.80 0a1.40 1.40 0 1 0 -2.80 0" stroke="#2A4CCB"/>
<path d="M436.52 187.05L438.12 189.83L434.92 189.83Z" stroke="#2D5AD6"/>
<g stroke="#3670E6"><path d="M442.92 170.10L446.37 170.10"/><path d="M444.64 168.38L444.64 171.82"/></g>
<g stroke="#3A80F4"><path d="M451.36 144.00L454.16 146.80"/><path d="M451.36 146.80L454.16 144.00"/></g>
<path d="M459.06 152.90L460.89 151.08L462.71 152.90L460.89 154.72Z" stroke="#4A8EF7"/>
<path d="M469.01 164.65L470.61 161.87L467.40 161.87Z" stroke="#5E9CF8"/>
<g stroke="#A3C2FA"><path d="M475.73 165.60L478.53 165.60L478.53 168.40L475.73 168.40Z"/><path d="M475.73 165.60L478.53 168.40"/><path d="M475.73 168.40L478.53 165.60"/></g>
<g stroke="#CFDFF8"><path d="M483.85 165.90L486.65 168.70"/><path d="M483.85 168.70L486.65 165.90"/><path d="M483.27 167.30L487.23 167.30"/><path d="M485.25 165.32L485.25 169.28"/></g>
<g stroke="#E8C3CE"><path d="M491.63 167.00L493.37 165.26L495.11 167.00L493.37 168.74Z"/><path d="M491.63 167.00L495.11 167.00"/><path d="M493.37 165.26L493.37 168.74"/></g>
<g stroke="#E0A8BB"><path d="M500.09 167.20a1.40 1.40 0 1 0 2.80 0a1.40 1.40 0 1 0 -2.80 0"/><path d="M500.09 167.20L502.89 167.20"/><path d="M501.49 165.80L501.49 168.60"/></g>
<g stroke="#D892A9"><path d="M509.61 163.65L511.22 166.89L508.01 166.89Z"/><path d="M509.61 167.35L511.22 164.11L508.01 164.11Z"/></g>
<g stroke="#D47493"><path d="M516.34 164.30L519.14 164.30L519.14 167.10L516.34 167.10Z"/><path d="M516.34 165.70L519.14 165.70"/><path d="M517.74 164.30L517.74 167.10"/></g>
<g stroke="#C95475"><path d="M524.46 165.40a1.40 1.40 0 1 0 2.80 0a1.40 1.40 0 1 0 -2.80 0"/><path d="M524.46 164.00L527.26 166.80"/><path d="M524.46 166.80L527.26 164.00"/></g>
<g stroke="#C1345E"><path d="M532.58 164.30L535.38 164.30L535.38 167.10L532.58 167.10Z"/><path d="M533.98 164.30L535.38 167.10L532.58 167.10Z"/></g>
<rect x="540.45" y="164.65" width="3.30" height="3.30" fill="#BE0032"/>
</g>
<rect x="423.5" y="143.5" width="123.30" height="58.30" fill="none" stroke="#626262" stroke-width="1"/>
<text transform="translate(33.50,199.15) rotate(0.1)" font-size="7.8" fill="#000000" stroke="#000000" text-anchor="end">0.06</text>
<text transform="translate(33.50,186.22) rotate(0.1)" font-size="7.8" fill="#000000" stroke="#000000" text-anchor="end">0.07</text>
<text transform="translate(33.50,173.30) rotate(0.1)" font-size="7.8" fill="#000000" stroke="#000000" text-anchor="end">0.08</text>
<text transform="translate(33.50,160.37) rotate(0.1)" font-size="7.8" fill="#000000" stroke="#000000" text-anchor="end">0.09</text>
<text transform="translate(33.50,147.45) rotate(0.1)" font-size="7.8" fill="#000000" stroke="#000000" text-anchor="end">0.10</text>
<path d="M35.30 196.40H38.50M35.30 183.47H38.50M35.30 170.55H38.50M35.30 157.62H38.50M35.30 144.70H38.50" stroke="#333333" stroke-width="1" fill="none"/>
<rect x="546.8" y="143.5" width="15.50" height="58.30" fill="#D9D9D9" stroke="#626262" stroke-width="1"/>
<text transform="translate(551.85,172.65) rotate(89.8)" font-size="7.95" fill="#000000" stroke="#000000" style="stroke-width:0.15px" text-anchor="middle">Theil Var Prop</text>
<rect x="38.5" y="207.3" width="123.00" height="58.10" fill="#fff"/>
<path d="M38.50 258.93H161.50M38.50 243.07H161.50M38.50 227.23H161.50M38.50 211.38H161.50" stroke="#EBEBEB" stroke-width="0.55" fill="none"/>
<path d="M38.50 251.00H161.50M38.50 235.15H161.50M38.50 219.30H161.50M42.85 207.30V265.40M50.98 207.30V265.40M59.11 207.30V265.40M67.24 207.30V265.40M75.36 207.30V265.40M83.49 207.30V265.40M91.62 207.30V265.40M99.75 207.30V265.40M107.88 207.30V265.40M116.01 207.30V265.40M124.14 207.30V265.40M132.26 207.30V265.40M140.39 207.30V265.40M148.52 207.30V265.40M156.65 207.30V265.40" stroke="#EBEBEB" stroke-width="1.0" fill="none"/>
<g fill="none" stroke-width="1.05" stroke-linecap="round" stroke-linejoin="round">
<path d="M41.45 238.90a1.40 1.40 0 1 0 2.80 0a1.40 1.40 0 1 0 -2.80 0" stroke="#2A4CCB"/>
<path d="M50.98 241.25L52.58 244.03L49.38 244.03Z" stroke="#2D5AD6"/>
<g stroke="#3670E6"><path d="M57.38 221.90L60.83 221.90"/><path d="M59.11 220.18L59.11 223.62"/></g>
<g stroke="#3A80F4"><path d="M65.84 209.70L68.64 212.50"/><path d="M65.84 212.50L68.64 209.70"/></g>
<path d="M73.54 213.80L75.36 211.98L77.19 213.80L75.36 215.62Z" stroke="#4A8EF7"/>
<path d="M83.49 220.55L85.10 217.77L81.89 217.77Z" stroke="#5E9CF8"/>
<g stroke="#A3C2FA"><path d="M90.22 237.00L93.02 237.00L93.02 239.80L90.22 239.80Z"/><path d="M90.22 237.00L93.02 239.80"/><path d="M90.22 239.80L93.02 237.00"/></g>
<g stroke="#CFDFF8"><path d="M98.35 239.90L101.15 242.70"/><path d="M98.35 242.70L101.15 239.90"/><path d="M97.77 241.30L101.73 241.30"/><path d="M99.75 239.32L99.75 243.28"/></g>
<g stroke="#E8C3CE"><path d="M106.14 238.40L107.88 236.66L109.62 238.40L107.88 240.14Z"/><path d="M106.14 238.40L109.62 238.40"/><path d="M107.88 236.66L107.88 240.14"/></g>
<g stroke="#E0A8BB"><path d="M114.61 241.70a1.40 1.40 0 1 0 2.80 0a1.40 1.40 0 1 0 -2.80 0"/><path d="M114.61 241.70L117.41 241.70"/><path d="M116.01 240.30L116.01 243.10"/></g>
<g stroke="#D892A9"><path d="M124.14 235.85L125.74 239.09L122.53 239.09Z"/><path d="M124.14 239.55L125.74 236.31L122.53 236.31Z"/></g>
<g stroke="#D47493"><path d="M130.86 239.50L133.66 239.50L133.66 242.30L130.86 242.30Z"/><path d="M130.86 240.90L133.66 240.90"/><path d="M132.26 239.50L132.26 242.30"/></g>
<g stroke="#C95475"><path d="M138.99 238.00a1.40 1.40 0 1 0 2.80 0a1.40 1.40 0 1 0 -2.80 0"/><path d="M138.99 236.60L141.79 239.40"/><path d="M138.99 239.40L141.79 236.60"/></g>
<g stroke="#C1345E"><path d="M147.12 239.50L149.92 239.50L149.92 242.30L147.12 242.30Z"/><path d="M148.52 239.50L149.92 242.30L147.12 242.30Z"/></g>
<rect x="155.00" y="239.85" width="3.30" height="3.30" fill="#BE0032"/>
</g>
<rect x="38.5" y="207.3" width="123.00" height="58.10" fill="none" stroke="#626262" stroke-width="1"/>
<rect x="166.5" y="207.3" width="123.50" height="58.10" fill="#fff"/>
<path d="M166.50 258.93H290.00M166.50 243.07H290.00M166.50 227.23H290.00M166.50 211.38H290.00" stroke="#EBEBEB" stroke-width="0.55" fill="none"/>
<path d="M166.50 251.00H290.00M166.50 235.15H290.00M166.50 219.30H290.00M171.40 207.30V265.40M179.54 207.30V265.40M187.67 207.30V265.40M195.81 207.30V265.40M203.94 207.30V265.40M212.08 207.30V265.40M220.21 207.30V265.40M228.35 207.30V265.40M236.49 207.30V265.40M244.62 207.30V265.40M252.76 207.30V265.40M260.89 207.30V265.40M269.03 207.30V265.40M277.16 207.30V265.40M285.30 207.30V265.40" stroke="#EBEBEB" stroke-width="1.0" fill="none"/>
<g fill="none" stroke-width="1.05" stroke-linecap="round" stroke-linejoin="round">
<path d="M170.00 262.30a1.40 1.40 0 1 0 2.80 0a1.40 1.40 0 1 0 -2.80 0" stroke="#2A4CCB"/>
<path d="M179.54 261.15L181.14 263.93L177.93 263.93Z" stroke="#2D5AD6"/>
<g stroke="#3670E6"><path d="M185.95 218.30L189.39 218.30"/><path d="M187.67 216.58L187.67 220.02"/></g>
<g stroke="#3A80F4"><path d="M194.41 221.60L197.21 224.40"/><path d="M194.41 224.40L197.21 221.60"/></g>
<path d="M202.12 216.90L203.94 215.08L205.76 216.90L203.94 218.72Z" stroke="#4A8EF7"/>
<path d="M212.08 219.45L213.68 216.67L210.48 216.67Z" stroke="#5E9CF8"/>
<g stroke="#A3C2FA"><path d="M218.81 260.50L221.61 260.50L221.61 263.30L218.81 263.30Z"/><path d="M218.81 260.50L221.61 263.30"/><path d="M218.81 263.30L221.61 260.50"/></g>
<g stroke="#CFDFF8"><path d="M226.95 261.10L229.75 263.90"/><path d="M226.95 263.90L229.75 261.10"/><path d="M226.37 262.50L230.33 262.50"/><path d="M228.35 260.52L228.35 264.48"/></g>
<g stroke="#E8C3CE"><path d="M234.74 261.80L236.49 260.06L238.23 261.80L236.49 263.54Z"/><path d="M234.74 261.80L238.23 261.80"/><path d="M236.49 260.06L236.49 263.54"/></g>
<g stroke="#E0A8BB"><path d="M243.22 262.30a1.40 1.40 0 1 0 2.80 0a1.40 1.40 0 1 0 -2.80 0"/><path d="M243.22 262.30L246.02 262.30"/><path d="M244.62 260.90L244.62 263.70"/></g>
<g stroke="#D892A9"><path d="M252.76 259.55L254.36 262.79L251.15 262.79Z"/><path d="M252.76 263.25L254.36 260.01L251.15 260.01Z"/></g>
<g stroke="#D47493"><path d="M259.49 261.30L262.29 261.30L262.29 264.10L259.49 264.10Z"/><path d="M259.49 262.70L262.29 262.70"/><path d="M260.89 261.30L260.89 264.10"/></g>
<g stroke="#C95475"><path d="M267.63 261.40a1.40 1.40 0 1 0 2.80 0a1.40 1.40 0 1 0 -2.80 0"/><path d="M267.63 260.00L270.43 262.80"/><path d="M267.63 262.80L270.43 260.00"/></g>
<g stroke="#C1345E"><path d="M275.76 261.30L278.56 261.30L278.56 264.10L275.76 264.10Z"/><path d="M277.16 261.30L278.56 264.10L275.76 264.10Z"/></g>
<rect x="283.65" y="260.15" width="3.30" height="3.30" fill="#BE0032"/>
</g>
<rect x="166.5" y="207.3" width="123.50" height="58.10" fill="none" stroke="#626262" stroke-width="1"/>
<rect x="295.0" y="207.3" width="123.50" height="58.10" fill="#fff"/>
<path d="M295.00 258.93H418.50M295.00 243.07H418.50M295.00 227.23H418.50M295.00 211.38H418.50" stroke="#EBEBEB" stroke-width="0.55" fill="none"/>
<path d="M295.00 251.00H418.50M295.00 235.15H418.50M295.00 219.30H418.50M299.85 207.30V265.40M307.98 207.30V265.40M316.11 207.30V265.40M324.24 207.30V265.40M332.36 207.30V265.40M340.49 207.30V265.40M348.62 207.30V265.40M356.75 207.30V265.40M364.88 207.30V265.40M373.01 207.30V265.40M381.14 207.30V265.40M389.26 207.30V265.40M397.39 207.30V265.40M405.52 207.30V265.40M413.65 207.30V265.40" stroke="#EBEBEB" stroke-width="1.0" fill="none"/>
<g fill="none" stroke-width="1.05" stroke-linecap="round" stroke-linejoin="round">
<path d="M298.45 258.10a1.40 1.40 0 1 0 2.80 0a1.40 1.40 0 1 0 -2.80 0" stroke="#2A4CCB"/>
<path d="M307.98 256.65L309.58 259.43L306.38 259.43Z" stroke="#2D5AD6"/>
<g stroke="#3670E6"><path d="M314.38 225.90L317.83 225.90"/><path d="M316.11 224.18L316.11 227.62"/></g>
<g stroke="#3A80F4"><path d="M322.84 219.80L325.64 222.60"/><path d="M322.84 222.60L325.64 219.80"/></g>
<path d="M330.54 220.80L332.36 218.98L334.19 220.80L332.36 222.62Z" stroke="#4A8EF7"/>
<path d="M340.49 225.75L342.10 222.97L338.89 222.97Z" stroke="#5E9CF8"/>
<g stroke="#A3C2FA"><path d="M347.22 255.80L350.02 255.80L350.02 258.60L347.22 258.60Z"/><path d="M347.22 255.80L350.02 258.60"/><path d="M347.22 258.60L350.02 255.80"/></g>
<g stroke="#CFDFF8"><path d="M355.35 257.10L358.15 259.90"/><path d="M355.35 259.90L358.15 257.10"/><path d="M354.77 258.50L358.73 258.50"/><path d="M356.75 256.52L356.75 260.48"/></g>
<g stroke="#E8C3CE"><path d="M363.14 257.20L364.88 255.46L366.62 257.20L364.88 258.94Z"/><path d="M363.14 257.20L366.62 257.20"/><path d="M364.88 255.46L364.88 258.94"/></g>
<g stroke="#E0A8BB"><path d="M371.61 258.50a1.40 1.40 0 1 0 2.80 0a1.40 1.40 0 1 0 -2.80 0"/><path d="M371.61 258.50L374.41 258.50"/><path d="M373.01 257.10L373.01 259.90"/></g>
<g stroke="#D892A9"><path d="M381.14 255.15L382.74 258.39L379.53 258.39Z"/><path d="M381.14 258.85L382.74 255.61L379.53 255.61Z"/></g>
<g stroke="#D47493"><path d="M387.86 256.90L390.66 256.90L390.66 259.70L387.86 259.70Z"/><path d="M387.86 258.30L390.66 258.30"/><path d="M389.26 256.90L389.26 259.70"/></g>
<g stroke="#C95475"><path d="M395.99 257.00a1.40 1.40 0 1 0 2.80 0a1.40 1.40 0 1 0 -2.80 0"/><path d="M395.99 255.60L398.79 258.40"/><path d="M395.99 258.40L398.79 255.60"/></g>
<g stroke="#C1345E"><path d="M404.12 256.90L406.92 256.90L406.92 259.70L404.12 259.70Z"/><path d="M405.52 256.90L406.92 259.70L404.12 259.70Z"/></g>
<rect x="412.00" y="256.15" width="3.30" height="3.30" fill="#BE0032"/>
</g>
<rect x="295.0" y="207.3" width="123.50" height="58.10" fill="none" stroke="#626262" stroke-width="1"/>
<rect x="423.5" y="207.3" width="123.30" height="58.10" fill="#fff"/>
<path d="M423.50 258.93H546.80M423.50 243.07H546.80M423.50 227.23H546.80M423.50 211.38H546.80" stroke="#EBEBEB" stroke-width="0.55" fill="none"/>
<path d="M423.50 251.00H546.80M423.50 235.15H546.80M423.50 219.30H546.80M428.40 207.30V265.40M436.52 207.30V265.40M444.64 207.30V265.40M452.76 207.30V265.40M460.89 207.30V265.40M469.01 207.30V265.40M477.13 207.30V265.40M485.25 207.30V265.40M493.37 207.30V265.40M501.49 207.30V265.40M509.61 207.30V265.40M517.74 207.30V265.40M525.86 207.30V265.40M533.98 207.30V265.40M542.10 207.30V265.40" stroke="#EBEBEB" stroke-width="1.0" fill="none"/>
<g fill="none" stroke-width="1.05" stroke-linecap="round" stroke-linejoin="round">
<path d="M427.00 250.90a1.40 1.40 0 1 0 2.80 0a1.40 1.40 0 1 0 -2.80 0" stroke="#2A4CCB"/>
<path d="M436.52 248.85L438.12 251.63L434.92 251.63Z" stroke="#2D5AD6"/>
<g stroke="#3670E6"><path d="M442.92 214.00L446.37 214.00"/><path d="M444.64 212.28L444.64 215.72"/></g>
<g stroke="#3A80F4"><path d="M451.36 212.40L454.16 215.20"/><path d="M451.36 215.20L454.16 212.40"/></g>
<path d="M459.06 209.60L460.89 207.78L462.71 209.60L460.89 211.42Z" stroke="#4A8EF7"/>
<path d="M469.01 213.65L470.61 210.87L467.40 210.87Z" stroke="#5E9CF8"/>
<g stroke="#A3C2FA"><path d="M475.73 249.10L478.53 249.10L478.53 251.90L475.73 251.90Z"/><path d="M475.73 249.10L478.53 251.90"/><path d="M475.73 251.90L478.53 249.10"/></g>
<g stroke="#CFDFF8"><path d="M483.85 249.50L486.65 252.30"/><path d="M483.85 252.30L486.65 249.50"/><path d="M483.27 250.90L487.23 250.90"/><path d="M485.25 248.92L485.25 252.88"/></g>
<g stroke="#E8C3CE"><path d="M491.63 250.40L493.37 248.66L495.11 250.40L493.37 252.14Z"/><path d="M491.63 250.40L495.11 250.40"/><path d="M493.37 248.66L493.37 252.14"/></g>
<g stroke="#E0A8BB"><path d="M500.09 250.90a1.40 1.40 0 1 0 2.80 0a1.40 1.40 0 1 0 -2.80 0"/><path d="M500.09 250.90L502.89 250.90"/><path d="M501.49 249.50L501.49 252.30"/></g>
<g stroke="#D892A9"><path d="M509.61 248.35L511.22 251.59L508.01 251.59Z"/><path d="M509.61 252.05L511.22 248.81L508.01 248.81Z"/></g>
<g stroke="#D47493"><path d="M516.34 249.30L519.14 249.30L519.14 252.10L516.34 252.10Z"/><path d="M516.34 250.70L519.14 250.70"/><path d="M517.74 249.30L517.74 252.10"/></g>
<g stroke="#C95475"><path d="M524.46 250.20a1.40 1.40 0 1 0 2.80 0a1.40 1.40 0 1 0 -2.80 0"/><path d="M524.46 248.80L527.26 251.60"/><path d="M524.46 251.60L527.26 248.80"/></g>
<g stroke="#C1345E"><path d="M532.58 249.30L535.38 249.30L535.38 252.10L532.58 252.10Z"/><path d="M533.98 249.30L535.38 252.10L532.58 252.10Z"/></g>
<rect x="540.45" y="249.45" width="3.30" height="3.30" fill="#BE0032"/>
</g>
<rect x="423.5" y="207.3" width="123.30" height="58.10" fill="none" stroke="#626262" stroke-width="1"/>
<text transform="translate(33.50,253.75) rotate(0.1)" font-size="7.8" fill="#000000" stroke="#000000" text-anchor="end">12.25</text>
<text transform="translate(33.50,237.90) rotate(0.1)" font-size="7.8" fill="#000000" stroke="#000000" text-anchor="end">12.50</text>
<text transform="translate(33.50,222.05) rotate(0.1)" font-size="7.8" fill="#000000" stroke="#000000" text-anchor="end">12.75</text>
<path d="M35.30 251.00H38.50M35.30 235.15H38.50M35.30 219.30H38.50" stroke="#333333" stroke-width="1" fill="none"/>
<rect x="546.8" y="207.3" width="15.50" height="58.10" fill="#D9D9D9" stroke="#626262" stroke-width="1"/>
<text transform="translate(551.85,236.35) rotate(89.8)" font-size="7.95" fill="#000000" stroke="#000000" style="stroke-width:0.15px" text-anchor="middle">RMSE</text>
<rect x="38.5" y="271.0" width="123.00" height="58.50" fill="#fff"/>
<path d="M38.50 320.15H161.50M38.50 301.45H161.50M38.50 282.75H161.50" stroke="#EBEBEB" stroke-width="0.55" fill="none"/>
<path d="M38.50 310.80H161.50M38.50 292.10H161.50M38.50 273.40H161.50M42.85 271.00V329.50M50.98 271.00V329.50M59.11 271.00V329.50M67.24 271.00V329.50M75.36 271.00V329.50M83.49 271.00V329.50M91.62 271.00V329.50M99.75 271.00V329.50M107.88 271.00V329.50M116.01 271.00V329.50M124.14 271.00V329.50M132.26 271.00V329.50M140.39 271.00V329.50M148.52 271.00V329.50M156.65 271.00V329.50" stroke="#EBEBEB" stroke-width="1.0" fill="none"/>
<g fill="none" stroke-width="1.05" stroke-linecap="round" stroke-linejoin="round">
<path d="M41.45 309.80a1.40 1.40 0 1 0 2.80 0a1.40 1.40 0 1 0 -2.80 0" stroke="#2A4CCB"/>
<path d="M50.98 303.95L52.58 306.73L49.38 306.73Z" stroke="#2D5AD6"/>
<g stroke="#3670E6"><path d="M57.38 291.40L60.83 291.40"/><path d="M59.11 289.68L59.11 293.12"/></g>
<g stroke="#3A80F4"><path d="M65.84 275.80L68.64 278.60"/><path d="M65.84 278.60L68.64 275.80"/></g>
<path d="M73.54 283.60L75.36 281.78L77.19 283.60L75.36 285.42Z" stroke="#4A8EF7"/>
<path d="M83.49 290.45L85.10 287.67L81.89 287.67Z" stroke="#5E9CF8"/>
<g stroke="#A3C2FA"><path d="M90.22 300.50L93.02 300.50L93.02 303.30L90.22 303.30Z"/><path d="M90.22 300.50L93.02 303.30"/><path d="M90.22 303.30L93.02 300.50"/></g>
<g stroke="#CFDFF8"><path d="M98.35 294.50L101.15 297.30"/><path d="M98.35 297.30L101.15 294.50"/><path d="M97.77 295.90L101.73 295.90"/><path d="M99.75 293.92L99.75 297.88"/></g>
<g stroke="#E8C3CE"><path d="M106.14 301.70L107.88 299.96L109.62 301.70L107.88 303.44Z"/><path d="M106.14 301.70L109.62 301.70"/><path d="M107.88 299.96L107.88 303.44"/></g>
<g stroke="#E0A8BB"><path d="M114.61 295.90a1.40 1.40 0 1 0 2.80 0a1.40 1.40 0 1 0 -2.80 0"/><path d="M114.61 295.90L117.41 295.90"/><path d="M116.01 294.50L116.01 297.30"/></g>
<g stroke="#D892A9"><path d="M124.14 298.95L125.74 302.19L122.53 302.19Z"/><path d="M124.14 302.65L125.74 299.41L122.53 299.41Z"/></g>
<g stroke="#D47493"><path d="M130.86 293.20L133.66 293.20L133.66 296.00L130.86 296.00Z"/><path d="M130.86 294.60L133.66 294.60"/><path d="M132.26 293.20L132.26 296.00"/></g>
<g stroke="#C95475"><path d="M138.99 300.60a1.40 1.40 0 1 0 2.80 0a1.40 1.40 0 1 0 -2.80 0"/><path d="M138.99 299.20L141.79 302.00"/><path d="M138.99 302.00L141.79 299.20"/></g>
<g stroke="#C1345E"><path d="M147.12 293.40L149.92 293.40L149.92 296.20L147.12 296.20Z"/><path d="M148.52 293.40L149.92 296.20L147.12 296.20Z"/></g>
<rect x="155.00" y="293.35" width="3.30" height="3.30" fill="#BE0032"/>
</g>
<rect x="38.5" y="271.0" width="123.00" height="58.50" fill="none" stroke="#626262" stroke-width="1"/>
<rect x="166.5" y="271.0" width="123.50" height="58.50" fill="#fff"/>
<path d="M166.50 320.15H290.00M166.50 301.45H290.00M166.50 282.75H290.00" stroke="#EBEBEB" stroke-width="0.55" fill="none"/>
<path d="M166.50 310.80H290.00M166.50 292.10H290.00M166.50 273.40H290.00M171.40 271.00V329.50M179.54 271.00V329.50M187.67 271.00V329.50M195.81 271.00V329.50M203.94 271.00V329.50M212.08 271.00V329.50M220.21 271.00V329.50M228.35 271.00V329.50M236.49 271.00V329.50M244.62 271.00V329.50M252.76 271.00V329.50M260.89 271.00V329.50M269.03 271.00V329.50M277.16 271.00V329.50M285.30 271.00V329.50" stroke="#EBEBEB" stroke-width="1.0" fill="none"/>
<g fill="none" stroke-width="1.05" stroke-linecap="round" stroke-linejoin="round">
<path d="M170.00 327.00a1.40 1.40 0 1 0 2.80 0a1.40 1.40 0 1 0 -2.80 0" stroke="#2A4CCB"/>
<path d="M179.54 323.95L181.14 326.73L177.93 326.73Z" stroke="#2D5AD6"/>
<g stroke="#3670E6"><path d="M185.95 303.70L189.39 303.70"/><path d="M187.67 301.98L187.67 305.42"/></g>
<g stroke="#3A80F4"><path d="M194.41 302.50L197.21 305.30"/><path d="M194.41 305.30L197.21 302.50"/></g>
<path d="M202.12 302.40L203.94 300.58L205.76 302.40L203.94 304.22Z" stroke="#4A8EF7"/>
<path d="M212.08 304.75L213.68 301.97L210.48 301.97Z" stroke="#5E9CF8"/>
<g stroke="#A3C2FA"><path d="M218.81 321.80L221.61 321.80L221.61 324.60L218.81 324.60Z"/><path d="M218.81 321.80L221.61 324.60"/><path d="M218.81 324.60L221.61 321.80"/></g>
<g stroke="#CFDFF8"><path d="M226.95 320.00L229.75 322.80"/><path d="M226.95 322.80L229.75 320.00"/><path d="M226.37 321.40L230.33 321.40"/><path d="M228.35 319.42L228.35 323.38"/></g>
<g stroke="#E8C3CE"><path d="M234.74 323.20L236.49 321.46L238.23 323.20L236.49 324.94Z"/><path d="M234.74 323.20L238.23 323.20"/><path d="M236.49 321.46L236.49 324.94"/></g>
<g stroke="#E0A8BB"><path d="M243.22 321.40a1.40 1.40 0 1 0 2.80 0a1.40 1.40 0 1 0 -2.80 0"/><path d="M243.22 321.40L246.02 321.40"/><path d="M244.62 320.00L244.62 322.80"/></g>
<g stroke="#D892A9"><path d="M252.76 320.85L254.36 324.09L251.15 324.09Z"/><path d="M252.76 324.55L254.36 321.31L251.15 321.31Z"/></g>
<g stroke="#D47493"><path d="M259.49 319.50L262.29 319.50L262.29 322.30L259.49 322.30Z"/><path d="M259.49 320.90L262.29 320.90"/><path d="M260.89 319.50L260.89 322.30"/></g>
<g stroke="#C95475"><path d="M267.63 322.70a1.40 1.40 0 1 0 2.80 0a1.40 1.40 0 1 0 -2.80 0"/><path d="M267.63 321.30L270.43 324.10"/><path d="M267.63 324.10L270.43 321.30"/></g>
<g stroke="#C1345E"><path d="M275.76 319.50L278.56 319.50L278.56 322.30L275.76 322.30Z"/><path d="M277.16 319.50L278.56 322.30L275.76 322.30Z"/></g>
<rect x="283.65" y="318.85" width="3.30" height="3.30" fill="#BE0032"/>
</g>
<rect x="166.5" y="271.0" width="123.50" height="58.50" fill="none" stroke="#626262" stroke-width="1"/>
<rect x="295.0" y="271.0" width="123.50" height="58.50" fill="#fff"/>
<path d="M295.00 320.15H418.50M295.00 301.45H418.50M295.00 282.75H418.50" stroke="#EBEBEB" stroke-width="0.55" fill="none"/>
<path d="M295.00 310.80H418.50M295.00 292.10H418.50M295.00 273.40H418.50M299.85 271.00V329.50M307.98 271.00V329.50M316.11 271.00V329.50M324.24 271.00V329.50M332.36 271.00V329.50M340.49 271.00V329.50M348.62 271.00V329.50M356.75 271.00V329.50M364.88 271.00V329.50M373.01 271.00V329.50M381.14 271.00V329.50M389.26 271.00V329.50M397.39 271.00V329.50M405.52 271.00V329.50M413.65 271.00V329.50" stroke="#EBEBEB" stroke-width="1.0" fill="none"/>
<g fill="none" stroke-width="1.05" stroke-linecap="round" stroke-linejoin="round">
<path d="M298.45 316.90a1.40 1.40 0 1 0 2.80 0a1.40 1.40 0 1 0 -2.80 0" stroke="#2A4CCB"/>
<path d="M307.98 313.95L309.58 316.73L306.38 316.73Z" stroke="#2D5AD6"/>
<g stroke="#3670E6"><path d="M314.38 287.70L317.83 287.70"/><path d="M316.11 285.98L316.11 289.42"/></g>
<g stroke="#3A80F4"><path d="M322.84 272.00L325.64 274.80"/><path d="M322.84 274.80L325.64 272.00"/></g>
<path d="M330.54 279.10L332.36 277.28L334.19 279.10L332.36 280.92Z" stroke="#4A8EF7"/>
<path d="M340.49 286.65L342.10 283.87L338.89 283.87Z" stroke="#5E9CF8"/>
<g stroke="#A3C2FA"><path d="M347.22 307.00L350.02 307.00L350.02 309.80L347.22 309.80Z"/><path d="M347.22 307.00L350.02 309.80"/><path d="M347.22 309.80L350.02 307.00"/></g>
<g stroke="#CFDFF8"><path d="M355.35 305.20L358.15 308.00"/><path d="M355.35 308.00L358.15 305.20"/><path d="M354.77 306.60L358.73 306.60"/><path d="M356.75 304.62L356.75 308.58"/></g>
<g stroke="#E8C3CE"><path d="M363.14 308.40L364.88 306.66L366.62 308.40L364.88 310.14Z"/><path d="M363.14 308.40L366.62 308.40"/><path d="M364.88 306.66L364.88 310.14"/></g>
<g stroke="#E0A8BB"><path d="M371.61 306.60a1.40 1.40 0 1 0 2.80 0a1.40 1.40 0 1 0 -2.80 0"/><path d="M371.61 306.60L374.41 306.60"/><path d="M373.01 305.20L373.01 308.00"/></g>
<g stroke="#D892A9"><path d="M381.14 305.85L382.74 309.09L379.53 309.09Z"/><path d="M381.14 309.55L382.74 306.31L379.53 306.31Z"/></g>
<g stroke="#D47493"><path d="M387.86 304.30L390.66 304.30L390.66 307.10L387.86 307.10Z"/><path d="M387.86 305.70L390.66 305.70"/><path d="M389.26 304.30L389.26 307.10"/></g>
<g stroke="#C95475"><path d="M395.99 307.70a1.40 1.40 0 1 0 2.80 0a1.40 1.40 0 1 0 -2.80 0"/><path d="M395.99 306.30L398.79 309.10"/><path d="M395.99 309.10L398.79 306.30"/></g>
<g stroke="#C1345E"><path d="M404.12 304.40L406.92 304.40L406.92 307.20L404.12 307.20Z"/><path d="M405.52 304.40L406.92 307.20L404.12 307.20Z"/></g>
<rect x="412.00" y="303.65" width="3.30" height="3.30" fill="#BE0032"/>
</g>
<rect x="295.0" y="271.0" width="123.50" height="58.50" fill="none" stroke="#626262" stroke-width="1"/>
<rect x="423.5" y="271.0" width="123.30" height="58.50" fill="#fff"/>
<path d="M423.50 320.15H546.80M423.50 301.45H546.80M423.50 282.75H546.80" stroke="#EBEBEB" stroke-width="0.55" fill="none"/>
<path d="M423.50 310.80H546.80M423.50 292.10H546.80M423.50 273.40H546.80M428.40 271.00V329.50M436.52 271.00V329.50M444.64 271.00V329.50M452.76 271.00V329.50M460.89 271.00V329.50M469.01 271.00V329.50M477.13 271.00V329.50M485.25 271.00V329.50M493.37 271.00V329.50M501.49 271.00V329.50M509.61 271.00V329.50M517.74 271.00V329.50M525.86 271.00V329.50M533.98 271.00V329.50M542.10 271.00V329.50" stroke="#EBEBEB" stroke-width="1.0" fill="none"/>
<g fill="none" stroke-width="1.05" stroke-linecap="round" stroke-linejoin="round">
<path d="M427.00 325.60a1.40 1.40 0 1 0 2.80 0a1.40 1.40 0 1 0 -2.80 0" stroke="#2A4CCB"/>
<path d="M436.52 322.45L438.12 325.23L434.92 325.23Z" stroke="#2D5AD6"/>
<g stroke="#3670E6"><path d="M442.92 304.00L446.37 304.00"/><path d="M444.64 302.28L444.64 305.72"/></g>
<g stroke="#3A80F4"><path d="M451.36 298.50L454.16 301.30"/><path d="M451.36 301.30L454.16 298.50"/></g>
<path d="M459.06 300.20L460.89 298.38L462.71 300.20L460.89 302.02Z" stroke="#4A8EF7"/>
<path d="M469.01 304.45L470.61 301.67L467.40 301.67Z" stroke="#5E9CF8"/>
<g stroke="#A3C2FA"><path d="M475.73 317.80L478.53 317.80L478.53 320.60L475.73 320.60Z"/><path d="M475.73 317.80L478.53 320.60"/><path d="M475.73 320.60L478.53 317.80"/></g>
<g stroke="#CFDFF8"><path d="M483.85 317.10L486.65 319.90"/><path d="M483.85 319.90L486.65 317.10"/><path d="M483.27 318.50L487.23 318.50"/><path d="M485.25 316.52L485.25 320.48"/></g>
<g stroke="#E8C3CE"><path d="M491.63 319.40L493.37 317.66L495.11 319.40L493.37 321.14Z"/><path d="M491.63 319.40L495.11 319.40"/><path d="M493.37 317.66L493.37 321.14"/></g>
<g stroke="#E0A8BB"><path d="M500.09 318.90a1.40 1.40 0 1 0 2.80 0a1.40 1.40 0 1 0 -2.80 0"/><path d="M500.09 318.90L502.89 318.90"/><path d="M501.49 317.50L501.49 320.30"/></g>
<g stroke="#D892A9"><path d="M509.61 317.25L511.22 320.49L508.01 320.49Z"/><path d="M509.61 320.95L511.22 317.71L508.01 317.71Z"/></g>
<g stroke="#D47493"><path d="M516.34 317.10L519.14 317.10L519.14 319.90L516.34 319.90Z"/><path d="M516.34 318.50L519.14 318.50"/><path d="M517.74 317.10L517.74 319.90"/></g>
<g stroke="#C95475"><path d="M524.46 319.10a1.40 1.40 0 1 0 2.80 0a1.40 1.40 0 1 0 -2.80 0"/><path d="M524.46 317.70L527.26 320.50"/><path d="M524.46 320.50L527.26 317.70"/></g>
<g stroke="#C1345E"><path d="M532.58 317.10L535.38 317.10L535.38 319.90L532.58 319.90Z"/><path d="M533.98 317.10L535.38 319.90L532.58 319.90Z"/></g>
<rect x="540.45" y="316.65" width="3.30" height="3.30" fill="#BE0032"/>
</g>
<rect x="423.5" y="271.0" width="123.30" height="58.50" fill="none" stroke="#626262" stroke-width="1"/>
<text transform="translate(33.50,332.25) rotate(0.1)" font-size="7.8" fill="#000000" stroke="#000000" text-anchor="end">0.01</text>
<text transform="translate(33.50,313.55) rotate(0.1)" font-size="7.8" fill="#000000" stroke="#000000" text-anchor="end">0.02</text>
<text transform="translate(33.50,294.85) rotate(0.1)" font-size="7.8" fill="#000000" stroke="#000000" text-anchor="end">0.03</text>
<text transform="translate(33.50,276.15) rotate(0.1)" font-size="7.8" fill="#000000" stroke="#000000" text-anchor="end">0.04</text>
<path d="M35.30 329.50H38.50M35.30 310.80H38.50M35.30 292.10H38.50M35.30 273.40H38.50" stroke="#333333" stroke-width="1" fill="none"/>
<rect x="546.8" y="271.0" width="15.50" height="58.50" fill="#D9D9D9" stroke="#626262" stroke-width="1"/>
<text transform="translate(551.85,300.25) rotate(89.8)" font-size="7.95" fill="#000000" stroke="#000000" style="stroke-width:0.15px" text-anchor="middle">KLD</text>
<rect x="38.5" y="334.9" width="123.00" height="58.60" fill="#fff"/>
<path d="M38.50 386.72H161.50M38.50 372.28H161.50M38.50 357.85H161.50M38.50 343.42H161.50" stroke="#EBEBEB" stroke-width="0.55" fill="none"/>
<path d="M38.50 379.50H161.50M38.50 365.07H161.50M38.50 350.63H161.50M38.50 336.20H161.50M42.85 334.90V393.50M50.98 334.90V393.50M59.11 334.90V393.50M67.24 334.90V393.50M75.36 334.90V393.50M83.49 334.90V393.50M91.62 334.90V393.50M99.75 334.90V393.50M107.88 334.90V393.50M116.01 334.90V393.50M124.14 334.90V393.50M132.26 334.90V393.50M140.39 334.90V393.50M148.52 334.90V393.50M156.65 334.90V393.50" stroke="#EBEBEB" stroke-width="1.0" fill="none"/>
<g fill="none" stroke-width="1.05" stroke-linecap="round" stroke-linejoin="round">
<path d="M41.45 391.30a1.40 1.40 0 1 0 2.80 0a1.40 1.40 0 1 0 -2.80 0" stroke="#2A4CCB"/>
<path d="M50.98 389.45L52.58 392.23L49.38 392.23Z" stroke="#2D5AD6"/>
<g stroke="#3670E6"><path d="M57.38 391.30L60.83 391.30"/><path d="M59.11 389.58L59.11 393.02"/></g>
<g stroke="#3A80F4"><path d="M65.84 389.90L68.64 392.70"/><path d="M65.84 392.70L68.64 389.90"/></g>
<path d="M73.54 391.30L75.36 389.48L77.19 391.30L75.36 393.12Z" stroke="#4A8EF7"/>
<path d="M83.49 393.15L85.10 390.37L81.89 390.37Z" stroke="#5E9CF8"/>
<g stroke="#A3C2FA"><path d="M90.22 389.90L93.02 389.90L93.02 392.70L90.22 392.70Z"/><path d="M90.22 389.90L93.02 392.70"/><path d="M90.22 392.70L93.02 389.90"/></g>
<g stroke="#CFDFF8"><path d="M98.35 389.90L101.15 392.70"/><path d="M98.35 392.70L101.15 389.90"/><path d="M97.77 391.30L101.73 391.30"/><path d="M99.75 389.32L99.75 393.28"/></g>
<g stroke="#E8C3CE"><path d="M106.14 391.30L107.88 389.56L109.62 391.30L107.88 393.04Z"/><path d="M106.14 391.30L109.62 391.30"/><path d="M107.88 389.56L107.88 393.04"/></g>
<g stroke="#E0A8BB"><path d="M114.61 391.30a1.40 1.40 0 1 0 2.80 0a1.40 1.40 0 1 0 -2.80 0"/><path d="M114.61 391.30L117.41 391.30"/><path d="M116.01 389.90L116.01 392.70"/></g>
<g stroke="#D892A9"><path d="M124.14 389.45L125.74 392.69L122.53 392.69Z"/><path d="M124.14 393.15L125.74 389.91L122.53 389.91Z"/></g>
<g stroke="#D47493"><path d="M130.86 389.90L133.66 389.90L133.66 392.70L130.86 392.70Z"/><path d="M130.86 391.30L133.66 391.30"/><path d="M132.26 389.90L132.26 392.70"/></g>
<g stroke="#C95475"><path d="M138.99 391.30a1.40 1.40 0 1 0 2.80 0a1.40 1.40 0 1 0 -2.80 0"/><path d="M138.99 389.90L141.79 392.70"/><path d="M138.99 392.70L141.79 389.90"/></g>
<g stroke="#C1345E"><path d="M147.12 389.90L149.92 389.90L149.92 392.70L147.12 392.70Z"/><path d="M148.52 389.90L149.92 392.70L147.12 392.70Z"/></g>
<rect x="155.00" y="389.65" width="3.30" height="3.30" fill="#BE0032"/>
</g>
<rect x="38.5" y="334.9" width="123.00" height="58.60" fill="none" stroke="#626262" stroke-width="1"/>
<rect x="166.5" y="334.9" width="123.50" height="58.60" fill="#fff"/>
<path d="M166.50 386.72H290.00M166.50 372.28H290.00M166.50 357.85H290.00M166.50 343.42H290.00" stroke="#EBEBEB" stroke-width="0.55" fill="none"/>
<path d="M166.50 379.50H290.00M166.50 365.07H290.00M166.50 350.63H290.00M166.50 336.20H290.00M171.40 334.90V393.50M179.54 334.90V393.50M187.67 334.90V393.50M195.81 334.90V393.50M203.94 334.90V393.50M212.08 334.90V393.50M220.21 334.90V393.50M228.35 334.90V393.50M236.49 334.90V393.50M244.62 334.90V393.50M252.76 334.90V393.50M260.89 334.90V393.50M269.03 334.90V393.50M277.16 334.90V393.50M285.30 334.90V393.50" stroke="#EBEBEB" stroke-width="1.0" fill="none"/>
<g fill="none" stroke-width="1.05" stroke-linecap="round" stroke-linejoin="round">
<path d="M170.00 373.70a1.40 1.40 0 1 0 2.80 0a1.40 1.40 0 1 0 -2.80 0" stroke="#2A4CCB"/>
<path d="M179.54 371.85L181.14 374.63L177.93 374.63Z" stroke="#2D5AD6"/>
<g stroke="#3670E6"><path d="M185.95 373.70L189.39 373.70"/><path d="M187.67 371.98L187.67 375.42"/></g>
<g stroke="#3A80F4"><path d="M194.41 372.30L197.21 375.10"/><path d="M194.41 375.10L197.21 372.30"/></g>
<path d="M202.12 373.70L203.94 371.88L205.76 373.70L203.94 375.52Z" stroke="#4A8EF7"/>
<path d="M212.08 375.55L213.68 372.77L210.48 372.77Z" stroke="#5E9CF8"/>
<g stroke="#A3C2FA"><path d="M218.81 372.30L221.61 372.30L221.61 375.10L218.81 375.10Z"/><path d="M218.81 372.30L221.61 375.10"/><path d="M218.81 375.10L221.61 372.30"/></g>
<g stroke="#CFDFF8"><path d="M226.95 372.30L229.75 375.10"/><path d="M226.95 375.10L229.75 372.30"/><path d="M226.37 373.70L230.33 373.70"/><path d="M228.35 371.72L228.35 375.68"/></g>
<g stroke="#E8C3CE"><path d="M234.74 373.70L236.49 371.96L238.23 373.70L236.49 375.44Z"/><path d="M234.74 373.70L238.23 373.70"/><path d="M236.49 371.96L236.49 375.44"/></g>
<g stroke="#E0A8BB"><path d="M243.22 373.70a1.40 1.40 0 1 0 2.80 0a1.40 1.40 0 1 0 -2.80 0"/><path d="M243.22 373.70L246.02 373.70"/><path d="M244.62 372.30L244.62 375.10"/></g>
<g stroke="#D892A9"><path d="M252.76 371.85L254.36 375.09L251.15 375.09Z"/><path d="M252.76 375.55L254.36 372.31L251.15 372.31Z"/></g>
<g stroke="#D47493"><path d="M259.49 372.30L262.29 372.30L262.29 375.10L259.49 375.10Z"/><path d="M259.49 373.70L262.29 373.70"/><path d="M260.89 372.30L260.89 375.10"/></g>
<g stroke="#C95475"><path d="M267.63 373.70a1.40 1.40 0 1 0 2.80 0a1.40 1.40 0 1 0 -2.80 0"/><path d="M267.63 372.30L270.43 375.10"/><path d="M267.63 375.10L270.43 372.30"/></g>
<g stroke="#C1345E"><path d="M275.76 372.30L278.56 372.30L278.56 375.10L275.76 375.10Z"/><path d="M277.16 372.30L278.56 375.10L275.76 375.10Z"/></g>
<rect x="283.65" y="372.05" width="3.30" height="3.30" fill="#BE0032"/>
</g>
<rect x="166.5" y="334.9" width="123.50" height="58.60" fill="none" stroke="#626262" stroke-width="1"/>
<rect x="295.0" y="334.9" width="123.50" height="58.60" fill="#fff"/>
<path d="M295.00 386.72H418.50M295.00 372.28H418.50M295.00 357.85H418.50M295.00 343.42H418.50" stroke="#EBEBEB" stroke-width="0.55" fill="none"/>
<path d="M295.00 379.50H418.50M295.00 365.07H418.50M295.00 350.63H418.50M295.00 336.20H418.50M299.85 334.90V393.50M307.98 334.90V393.50M316.11 334.90V393.50M324.24 334.90V393.50M332.36 334.90V393.50M340.49 334.90V393.50M348.62 334.90V393.50M356.75 334.90V393.50M364.88 334.90V393.50M373.01 334.90V393.50M381.14 334.90V393.50M389.26 334.90V393.50M397.39 334.90V393.50M405.52 334.90V393.50M413.65 334.90V393.50" stroke="#EBEBEB" stroke-width="1.0" fill="none"/>
<g fill="none" stroke-width="1.05" stroke-linecap="round" stroke-linejoin="round">
<path d="M298.45 373.70a1.40 1.40 0 1 0 2.80 0a1.40 1.40 0 1 0 -2.80 0" stroke="#2A4CCB"/>
<path d="M307.98 371.85L309.58 374.63L306.38 374.63Z" stroke="#2D5AD6"/>
<g stroke="#3670E6"><path d="M314.38 373.70L317.83 373.70"/><path d="M316.11 371.98L316.11 375.42"/></g>
<g stroke="#3A80F4"><path d="M322.84 372.30L325.64 375.10"/><path d="M322.84 375.10L325.64 372.30"/></g>
<path d="M330.54 373.70L332.36 371.88L334.19 373.70L332.36 375.52Z" stroke="#4A8EF7"/>
<path d="M340.49 375.55L342.10 372.77L338.89 372.77Z" stroke="#5E9CF8"/>
<g stroke="#A3C2FA"><path d="M347.22 372.30L350.02 372.30L350.02 375.10L347.22 375.10Z"/><path d="M347.22 372.30L350.02 375.10"/><path d="M347.22 375.10L350.02 372.30"/></g>
<g stroke="#CFDFF8"><path d="M355.35 372.30L358.15 375.10"/><path d="M355.35 375.10L358.15 372.30"/><path d="M354.77 373.70L358.73 373.70"/><path d="M356.75 371.72L356.75 375.68"/></g>
<g stroke="#E8C3CE"><path d="M363.14 373.70L364.88 371.96L366.62 373.70L364.88 375.44Z"/><path d="M363.14 373.70L366.62 373.70"/><path d="M364.88 371.96L364.88 375.44"/></g>
<g stroke="#E0A8BB"><path d="M371.61 373.70a1.40 1.40 0 1 0 2.80 0a1.40 1.40 0 1 0 -2.80 0"/><path d="M371.61 373.70L374.41 373.70"/><path d="M373.01 372.30L373.01 375.10"/></g>
<g stroke="#D892A9"><path d="M381.14 371.85L382.74 375.09L379.53 375.09Z"/><path d="M381.14 375.55L382.74 372.31L379.53 372.31Z"/></g>
<g stroke="#D47493"><path d="M387.86 372.30L390.66 372.30L390.66 375.10L387.86 375.10Z"/><path d="M387.86 373.70L390.66 373.70"/><path d="M389.26 372.30L389.26 375.10"/></g>
<g stroke="#C95475"><path d="M395.99 373.70a1.40 1.40 0 1 0 2.80 0a1.40 1.40 0 1 0 -2.80 0"/><path d="M395.99 372.30L398.79 375.10"/><path d="M395.99 375.10L398.79 372.30"/></g>
<g stroke="#C1345E"><path d="M404.12 372.30L406.92 372.30L406.92 375.10L404.12 375.10Z"/><path d="M405.52 372.30L406.92 375.10L404.12 375.10Z"/></g>
<rect x="412.00" y="372.05" width="3.30" height="3.30" fill="#BE0032"/>
</g>
<rect x="295.0" y="334.9" width="123.50" height="58.60" fill="none" stroke="#626262" stroke-width="1"/>
<rect x="423.5" y="334.9" width="123.30" height="58.60" fill="#fff"/>
<path d="M423.50 386.72H546.80M423.50 372.28H546.80M423.50 357.85H546.80M423.50 343.42H546.80" stroke="#EBEBEB" stroke-width="0.55" fill="none"/>
<path d="M423.50 379.50H546.80M423.50 365.07H546.80M423.50 350.63H546.80M423.50 336.20H546.80M428.40 334.90V393.50M436.52 334.90V393.50M444.64 334.90V393.50M452.76 334.90V393.50M460.89 334.90V393.50M469.01 334.90V393.50M477.13 334.90V393.50M485.25 334.90V393.50M493.37 334.90V393.50M501.49 334.90V393.50M509.61 334.90V393.50M517.74 334.90V393.50M525.86 334.90V393.50M533.98 334.90V393.50M542.10 334.90V393.50" stroke="#EBEBEB" stroke-width="1.0" fill="none"/>
<g fill="none" stroke-width="1.05" stroke-linecap="round" stroke-linejoin="round">
<path d="M427.00 338.10a1.40 1.40 0 1 0 2.80 0a1.40 1.40 0 1 0 -2.80 0" stroke="#2A4CCB"/>
<path d="M436.52 336.25L438.12 339.03L434.92 339.03Z" stroke="#2D5AD6"/>
<g stroke="#3670E6"><path d="M442.92 338.10L446.37 338.10"/><path d="M444.64 336.38L444.64 339.82"/></g>
<g stroke="#3A80F4"><path d="M451.36 336.70L454.16 339.50"/><path d="M451.36 339.50L454.16 336.70"/></g>
<path d="M459.06 338.10L460.89 336.28L462.71 338.10L460.89 339.92Z" stroke="#4A8EF7"/>
<path d="M469.01 339.95L470.61 337.17L467.40 337.17Z" stroke="#5E9CF8"/>
<g stroke="#A3C2FA"><path d="M475.73 336.70L478.53 336.70L478.53 339.50L475.73 339.50Z"/><path d="M475.73 336.70L478.53 339.50"/><path d="M475.73 339.50L478.53 336.70"/></g>
<g stroke="#CFDFF8"><path d="M483.85 336.70L486.65 339.50"/><path d="M483.85 339.50L486.65 336.70"/><path d="M483.27 338.10L487.23 338.10"/><path d="M485.25 336.12L485.25 340.08"/></g>
<g stroke="#E8C3CE"><path d="M491.63 338.10L493.37 336.36L495.11 338.10L493.37 339.84Z"/><path d="M491.63 338.10L495.11 338.10"/><path d="M493.37 336.36L493.37 339.84"/></g>
<g stroke="#E0A8BB"><path d="M500.09 338.10a1.40 1.40 0 1 0 2.80 0a1.40 1.40 0 1 0 -2.80 0"/><path d="M500.09 338.10L502.89 338.10"/><path d="M501.49 336.70L501.49 339.50"/></g>
<g stroke="#D892A9"><path d="M509.61 336.25L511.22 339.49L508.01 339.49Z"/><path d="M509.61 339.95L511.22 336.71L508.01 336.71Z"/></g>
<g stroke="#D47493"><path d="M516.34 336.70L519.14 336.70L519.14 339.50L516.34 339.50Z"/><path d="M516.34 338.10L519.14 338.10"/><path d="M517.74 336.70L517.74 339.50"/></g>
<g stroke="#C95475"><path d="M524.46 338.10a1.40 1.40 0 1 0 2.80 0a1.40 1.40 0 1 0 -2.80 0"/><path d="M524.46 336.70L527.26 339.50"/><path d="M524.46 339.50L527.26 336.70"/></g>
<g stroke="#C1345E"><path d="M532.58 336.70L535.38 336.70L535.38 339.50L532.58 339.50Z"/><path d="M533.98 336.70L535.38 339.50L532.58 339.50Z"/></g>
<rect x="540.45" y="336.45" width="3.30" height="3.30" fill="#BE0032"/>
</g>
<rect x="423.5" y="334.9" width="123.30" height="58.60" fill="none" stroke="#626262" stroke-width="1"/>
<text transform="translate(33.50,382.25) rotate(0.1)" font-size="7.8" fill="#000000" stroke="#000000" text-anchor="end">20000</text>
<text transform="translate(33.50,367.82) rotate(0.1)" font-size="7.8" fill="#000000" stroke="#000000" text-anchor="end">30000</text>
<text transform="translate(33.50,353.38) rotate(0.1)" font-size="7.8" fill="#000000" stroke="#000000" text-anchor="end">40000</text>
<text transform="translate(33.50,338.95) rotate(0.1)" font-size="7.8" fill="#000000" stroke="#000000" text-anchor="end">50000</text>
<path d="M35.30 379.50H38.50M35.30 365.07H38.50M35.30 350.63H38.50M35.30 336.20H38.50" stroke="#333333" stroke-width="1" fill="none"/>
<rect x="546.8" y="334.9" width="15.50" height="58.60" fill="#D9D9D9" stroke="#626262" stroke-width="1"/>
<text transform="translate(551.85,364.20) rotate(89.8)" font-size="7.95" fill="#000000" stroke="#000000" style="stroke-width:0.15px" text-anchor="middle">LOOIC (Stu)</text>
<rect x="38.5" y="398.9" width="123.00" height="58.40" fill="#fff"/>
<path d="M38.50 450.70H161.50M38.50 435.90H161.50M38.50 421.10H161.50M38.50 406.30H161.50" stroke="#EBEBEB" stroke-width="0.55" fill="none"/>
<path d="M38.50 443.30H161.50M38.50 428.50H161.50M38.50 413.70H161.50M42.85 398.90V457.30M50.98 398.90V457.30M59.11 398.90V457.30M67.24 398.90V457.30M75.36 398.90V457.30M83.49 398.90V457.30M91.62 398.90V457.30M99.75 398.90V457.30M107.88 398.90V457.30M116.01 398.90V457.30M124.14 398.90V457.30M132.26 398.90V457.30M140.39 398.90V457.30M148.52 398.90V457.30M156.65 398.90V457.30" stroke="#EBEBEB" stroke-width="1.0" fill="none"/>
<g fill="none" stroke-width="1.05" stroke-linecap="round" stroke-linejoin="round">
<path d="M41.45 455.10a1.40 1.40 0 1 0 2.80 0a1.40 1.40 0 1 0 -2.80 0" stroke="#2A4CCB"/>
<path d="M50.98 453.25L52.58 456.03L49.38 456.03Z" stroke="#2D5AD6"/>
<g stroke="#3670E6"><path d="M57.38 455.10L60.83 455.10"/><path d="M59.11 453.38L59.11 456.82"/></g>
<g stroke="#3A80F4"><path d="M65.84 453.70L68.64 456.50"/><path d="M65.84 456.50L68.64 453.70"/></g>
<path d="M73.54 455.10L75.36 453.28L77.19 455.10L75.36 456.92Z" stroke="#4A8EF7"/>
<path d="M83.49 456.95L85.10 454.17L81.89 454.17Z" stroke="#5E9CF8"/>
<g stroke="#A3C2FA"><path d="M90.22 453.70L93.02 453.70L93.02 456.50L90.22 456.50Z"/><path d="M90.22 453.70L93.02 456.50"/><path d="M90.22 456.50L93.02 453.70"/></g>
<g stroke="#CFDFF8"><path d="M98.35 453.70L101.15 456.50"/><path d="M98.35 456.50L101.15 453.70"/><path d="M97.77 455.10L101.73 455.10"/><path d="M99.75 453.12L99.75 457.08"/></g>
<g stroke="#E8C3CE"><path d="M106.14 455.10L107.88 453.36L109.62 455.10L107.88 456.84Z"/><path d="M106.14 455.10L109.62 455.10"/><path d="M107.88 453.36L107.88 456.84"/></g>
<g stroke="#E0A8BB"><path d="M114.61 455.10a1.40 1.40 0 1 0 2.80 0a1.40 1.40 0 1 0 -2.80 0"/><path d="M114.61 455.10L117.41 455.10"/><path d="M116.01 453.70L116.01 456.50"/></g>
<g stroke="#D892A9"><path d="M124.14 453.25L125.74 456.49L122.53 456.49Z"/><path d="M124.14 456.95L125.74 453.71L122.53 453.71Z"/></g>
<g stroke="#D47493"><path d="M130.86 453.70L133.66 453.70L133.66 456.50L130.86 456.50Z"/><path d="M130.86 455.10L133.66 455.10"/><path d="M132.26 453.70L132.26 456.50"/></g>
<g stroke="#C95475"><path d="M138.99 455.10a1.40 1.40 0 1 0 2.80 0a1.40 1.40 0 1 0 -2.80 0"/><path d="M138.99 453.70L141.79 456.50"/><path d="M138.99 456.50L141.79 453.70"/></g>
<g stroke="#C1345E"><path d="M147.12 453.70L149.92 453.70L149.92 456.50L147.12 456.50Z"/><path d="M148.52 453.70L149.92 456.50L147.12 456.50Z"/></g>
<rect x="155.00" y="453.45" width="3.30" height="3.30" fill="#BE0032"/>
</g>
<rect x="38.5" y="398.9" width="123.00" height="58.40" fill="none" stroke="#626262" stroke-width="1"/>
<rect x="166.5" y="398.9" width="123.50" height="58.40" fill="#fff"/>
<path d="M166.50 450.70H290.00M166.50 435.90H290.00M166.50 421.10H290.00M166.50 406.30H290.00" stroke="#EBEBEB" stroke-width="0.55" fill="none"/>
<path d="M166.50 443.30H290.00M166.50 428.50H290.00M166.50 413.70H290.00M171.40 398.90V457.30M179.54 398.90V457.30M187.67 398.90V457.30M195.81 398.90V457.30M203.94 398.90V457.30M212.08 398.90V457.30M220.21 398.90V457.30M228.35 398.90V457.30M236.49 398.90V457.30M244.62 398.90V457.30M252.76 398.90V457.30M260.89 398.90V457.30M269.03 398.90V457.30M277.16 398.90V457.30M285.30 398.90V457.30" stroke="#EBEBEB" stroke-width="1.0" fill="none"/>
<g fill="none" stroke-width="1.05" stroke-linecap="round" stroke-linejoin="round">
<path d="M170.00 437.60a1.40 1.40 0 1 0 2.80 0a1.40 1.40 0 1 0 -2.80 0" stroke="#2A4CCB"/>
<path d="M179.54 435.75L181.14 438.53L177.93 438.53Z" stroke="#2D5AD6"/>
<g stroke="#3670E6"><path d="M185.95 437.60L189.39 437.60"/><path d="M187.67 435.88L187.67 439.32"/></g>
<g stroke="#3A80F4"><path d="M194.41 436.20L197.21 439.00"/><path d="M194.41 439.00L197.21 436.20"/></g>
<path d="M202.12 437.60L203.94 435.78L205.76 437.60L203.94 439.42Z" stroke="#4A8EF7"/>
<path d="M212.08 439.45L213.68 436.67L210.48 436.67Z" stroke="#5E9CF8"/>
<g stroke="#A3C2FA"><path d="M218.81 436.20L221.61 436.20L221.61 439.00L218.81 439.00Z"/><path d="M218.81 436.20L221.61 439.00"/><path d="M218.81 439.00L221.61 436.20"/></g>
<g stroke="#CFDFF8"><path d="M226.95 436.20L229.75 439.00"/><path d="M226.95 439.00L229.75 436.20"/><path d="M226.37 437.60L230.33 437.60"/><path d="M228.35 435.62L228.35 439.58"/></g>
<g stroke="#E8C3CE"><path d="M234.74 437.60L236.49 435.86L238.23 437.60L236.49 439.34Z"/><path d="M234.74 437.60L238.23 437.60"/><path d="M236.49 435.86L236.49 439.34"/></g>
<g stroke="#E0A8BB"><path d="M243.22 437.60a1.40 1.40 0 1 0 2.80 0a1.40 1.40 0 1 0 -2.80 0"/><path d="M243.22 437.60L246.02 437.60"/><path d="M244.62 436.20L244.62 439.00"/></g>
<g stroke="#D892A9"><path d="M252.76 435.75L254.36 438.99L251.15 438.99Z"/><path d="M252.76 439.45L254.36 436.21L251.15 436.21Z"/></g>
<g stroke="#D47493"><path d="M259.49 436.20L262.29 436.20L262.29 439.00L259.49 439.00Z"/><path d="M259.49 437.60L262.29 437.60"/><path d="M260.89 436.20L260.89 439.00"/></g>
<g stroke="#C95475"><path d="M267.63 437.60a1.40 1.40 0 1 0 2.80 0a1.40 1.40 0 1 0 -2.80 0"/><path d="M267.63 436.20L270.43 439.00"/><path d="M267.63 439.00L270.43 436.20"/></g>
<g stroke="#C1345E"><path d="M275.76 436.20L278.56 436.20L278.56 439.00L275.76 439.00Z"/><path d="M277.16 436.20L278.56 439.00L275.76 439.00Z"/></g>
<rect x="283.65" y="435.95" width="3.30" height="3.30" fill="#BE0032"/>
</g>
<rect x="166.5" y="398.9" width="123.50" height="58.40" fill="none" stroke="#626262" stroke-width="1"/>
<rect x="295.0" y="398.9" width="123.50" height="58.40" fill="#fff"/>
<path d="M295.00 450.70H418.50M295.00 435.90H418.50M295.00 421.10H418.50M295.00 406.30H418.50" stroke="#EBEBEB" stroke-width="0.55" fill="none"/>
<path d="M295.00 443.30H418.50M295.00 428.50H418.50M295.00 413.70H418.50M299.85 398.90V457.30M307.98 398.90V457.30M316.11 398.90V457.30M324.24 398.90V457.30M332.36 398.90V457.30M340.49 398.90V457.30M348.62 398.90V457.30M356.75 398.90V457.30M364.88 398.90V457.30M373.01 398.90V457.30M381.14 398.90V457.30M389.26 398.90V457.30M397.39 398.90V457.30M405.52 398.90V457.30M413.65 398.90V457.30" stroke="#EBEBEB" stroke-width="1.0" fill="none"/>
<g fill="none" stroke-width="1.05" stroke-linecap="round" stroke-linejoin="round">
<path d="M298.45 437.60a1.40 1.40 0 1 0 2.80 0a1.40 1.40 0 1 0 -2.80 0" stroke="#2A4CCB"/>
<path d="M307.98 435.75L309.58 438.53L306.38 438.53Z" stroke="#2D5AD6"/>
<g stroke="#3670E6"><path d="M314.38 437.60L317.83 437.60"/><path d="M316.11 435.88L316.11 439.32"/></g>
<g stroke="#3A80F4"><path d="M322.84 436.20L325.64 439.00"/><path d="M322.84 439.00L325.64 436.20"/></g>
<path d="M330.54 437.60L332.36 435.78L334.19 437.60L332.36 439.42Z" stroke="#4A8EF7"/>
<path d="M340.49 439.45L342.10 436.67L338.89 436.67Z" stroke="#5E9CF8"/>
<g stroke="#A3C2FA"><path d="M347.22 436.20L350.02 436.20L350.02 439.00L347.22 439.00Z"/><path d="M347.22 436.20L350.02 439.00"/><path d="M347.22 439.00L350.02 436.20"/></g>
<g stroke="#CFDFF8"><path d="M355.35 436.20L358.15 439.00"/><path d="M355.35 439.00L358.15 436.20"/><path d="M354.77 437.60L358.73 437.60"/><path d="M356.75 435.62L356.75 439.58"/></g>
<g stroke="#E8C3CE"><path d="M363.14 437.60L364.88 435.86L366.62 437.60L364.88 439.34Z"/><path d="M363.14 437.60L366.62 437.60"/><path d="M364.88 435.86L364.88 439.34"/></g>
<g stroke="#E0A8BB"><path d="M371.61 437.60a1.40 1.40 0 1 0 2.80 0a1.40 1.40 0 1 0 -2.80 0"/><path d="M371.61 437.60L374.41 437.60"/><path d="M373.01 436.20L373.01 439.00"/></g>
<g stroke="#D892A9"><path d="M381.14 435.75L382.74 438.99L379.53 438.99Z"/><path d="M381.14 439.45L382.74 436.21L379.53 436.21Z"/></g>
<g stroke="#D47493"><path d="M387.86 436.20L390.66 436.20L390.66 439.00L387.86 439.00Z"/><path d="M387.86 437.60L390.66 437.60"/><path d="M389.26 436.20L389.26 439.00"/></g>
<g stroke="#C95475"><path d="M395.99 437.60a1.40 1.40 0 1 0 2.80 0a1.40 1.40 0 1 0 -2.80 0"/><path d="M395.99 436.20L398.79 439.00"/><path d="M395.99 439.00L398.79 436.20"/></g>
<g stroke="#C1345E"><path d="M404.12 436.20L406.92 436.20L406.92 439.00L404.12 439.00Z"/><path d="M405.52 436.20L406.92 439.00L404.12 439.00Z"/></g>
<rect x="412.00" y="435.95" width="3.30" height="3.30" fill="#BE0032"/>
</g>
<rect x="295.0" y="398.9" width="123.50" height="58.40" fill="none" stroke="#626262" stroke-width="1"/>
<rect x="423.5" y="398.9" width="123.30" height="58.40" fill="#fff"/>
<path d="M423.50 450.70H546.80M423.50 435.90H546.80M423.50 421.10H546.80M423.50 406.30H546.80" stroke="#EBEBEB" stroke-width="0.55" fill="none"/>
<path d="M423.50 443.30H546.80M423.50 428.50H546.80M423.50 413.70H546.80M428.40 398.90V457.30M436.52 398.90V457.30M444.64 398.90V457.30M452.76 398.90V457.30M460.89 398.90V457.30M469.01 398.90V457.30M477.13 398.90V457.30M485.25 398.90V457.30M493.37 398.90V457.30M501.49 398.90V457.30M509.61 398.90V457.30M517.74 398.90V457.30M525.86 398.90V457.30M533.98 398.90V457.30M542.10 398.90V457.30" stroke="#EBEBEB" stroke-width="1.0" fill="none"/>
<g fill="none" stroke-width="1.05" stroke-linecap="round" stroke-linejoin="round">
<path d="M427.00 402.20a1.40 1.40 0 1 0 2.80 0a1.40 1.40 0 1 0 -2.80 0" stroke="#2A4CCB"/>
<path d="M436.52 400.35L438.12 403.13L434.92 403.13Z" stroke="#2D5AD6"/>
<g stroke="#3670E6"><path d="M442.92 402.20L446.37 402.20"/><path d="M444.64 400.48L444.64 403.92"/></g>
<g stroke="#3A80F4"><path d="M451.36 400.80L454.16 403.60"/><path d="M451.36 403.60L454.16 400.80"/></g>
<path d="M459.06 402.20L460.89 400.38L462.71 402.20L460.89 404.02Z" stroke="#4A8EF7"/>
<path d="M469.01 404.05L470.61 401.27L467.40 401.27Z" stroke="#5E9CF8"/>
<g stroke="#A3C2FA"><path d="M475.73 400.80L478.53 400.80L478.53 403.60L475.73 403.60Z"/><path d="M475.73 400.80L478.53 403.60"/><path d="M475.73 403.60L478.53 400.80"/></g>
<g stroke="#CFDFF8"><path d="M483.85 400.80L486.65 403.60"/><path d="M483.85 403.60L486.65 400.80"/><path d="M483.27 402.20L487.23 402.20"/><path d="M485.25 400.22L485.25 404.18"/></g>
<g stroke="#E8C3CE"><path d="M491.63 402.20L493.37 400.46L495.11 402.20L493.37 403.94Z"/><path d="M491.63 402.20L495.11 402.20"/><path d="M493.37 400.46L493.37 403.94"/></g>
<g stroke="#E0A8BB"><path d="M500.09 402.20a1.40 1.40 0 1 0 2.80 0a1.40 1.40 0 1 0 -2.80 0"/><path d="M500.09 402.20L502.89 402.20"/><path d="M501.49 400.80L501.49 403.60"/></g>
<g stroke="#D892A9"><path d="M509.61 400.35L511.22 403.59L508.01 403.59Z"/><path d="M509.61 404.05L511.22 400.81L508.01 400.81Z"/></g>
<g stroke="#D47493"><path d="M516.34 400.80L519.14 400.80L519.14 403.60L516.34 403.60Z"/><path d="M516.34 402.20L519.14 402.20"/><path d="M517.74 400.80L517.74 403.60"/></g>
<g stroke="#C95475"><path d="M524.46 402.20a1.40 1.40 0 1 0 2.80 0a1.40 1.40 0 1 0 -2.80 0"/><path d="M524.46 400.80L527.26 403.60"/><path d="M524.46 403.60L527.26 400.80"/></g>
<g stroke="#C1345E"><path d="M532.58 400.80L535.38 400.80L535.38 403.60L532.58 403.60Z"/><path d="M533.98 400.80L535.38 403.60L532.58 403.60Z"/></g>
<rect x="540.45" y="400.55" width="3.30" height="3.30" fill="#BE0032"/>
</g>
<rect x="423.5" y="398.9" width="123.30" height="58.40" fill="none" stroke="#626262" stroke-width="1"/>
<text transform="translate(33.50,446.05) rotate(0.1)" font-size="7.8" fill="#000000" stroke="#000000" text-anchor="end">20000</text>
<text transform="translate(33.50,431.25) rotate(0.1)" font-size="7.8" fill="#000000" stroke="#000000" text-anchor="end">30000</text>
<text transform="translate(33.50,416.45) rotate(0.1)" font-size="7.8" fill="#000000" stroke="#000000" text-anchor="end">40000</text>
<text transform="translate(33.50,401.65) rotate(0.1)" font-size="7.8" fill="#000000" stroke="#000000" text-anchor="end">50000</text>
<path d="M35.30 443.30H38.50M35.30 428.50H38.50M35.30 413.70H38.50M35.30 398.90H38.50" stroke="#333333" stroke-width="1" fill="none"/>
<rect x="546.8" y="398.9" width="15.50" height="58.40" fill="#D9D9D9" stroke="#626262" stroke-width="1"/>
<text transform="translate(551.85,428.10) rotate(89.8)" font-size="7.95" fill="#000000" stroke="#000000" style="stroke-width:0.15px" text-anchor="middle">LOOIC (Sch)</text>
<rect x="38.5" y="0.3" width="123.00" height="14.80" fill="#D9D9D9" stroke="#626262" stroke-width="1"/>
<text transform="translate(100.00,10.3) rotate(0.1)" font-size="7.95" fill="#000000" stroke="#000000" text-anchor="middle">G = 10, n = 20</text>
<rect x="166.5" y="0.3" width="123.50" height="14.80" fill="#D9D9D9" stroke="#626262" stroke-width="1"/>
<text transform="translate(228.25,10.3) rotate(0.1)" font-size="7.95" fill="#000000" stroke="#000000" text-anchor="middle">G = 10, n = 40</text>
<rect x="295.0" y="0.3" width="123.50" height="14.80" fill="#D9D9D9" stroke="#626262" stroke-width="1"/>
<text transform="translate(356.75,10.3) rotate(0.1)" font-size="7.95" fill="#000000" stroke="#000000" text-anchor="middle">G = 20, n = 20</text>
<rect x="423.5" y="0.3" width="123.30" height="14.80" fill="#D9D9D9" stroke="#626262" stroke-width="1"/>
<text transform="translate(485.15,10.3) rotate(0.1)" font-size="7.95" fill="#000000" stroke="#000000" text-anchor="middle">G = 20, n = 40</text>
<text transform="translate(45.85,462.10) rotate(-89.8)" font-size="7.95" fill="#000000" stroke="#000000" style="stroke-width:0.15px" text-anchor="end">BLR non−informative</text>
<text transform="translate(53.98,462.10) rotate(-89.8)" font-size="7.95" fill="#000000" stroke="#000000" style="stroke-width:0.15px" text-anchor="end">BLR−AGDP</text>
<text transform="translate(62.11,462.10) rotate(-89.8)" font-size="7.95" fill="#000000" stroke="#000000" style="stroke-width:0.15px" text-anchor="end">BLR pooling</text>
<text transform="translate(70.24,462.10) rotate(-89.8)" font-size="7.95" fill="#000000" stroke="#000000" style="stroke-width:0.15px" text-anchor="end">PP (.25)</text>
<text transform="translate(78.36,462.10) rotate(-89.8)" font-size="7.95" fill="#000000" stroke="#000000" style="stroke-width:0.15px" text-anchor="end">PP (.5)</text>
<text transform="translate(86.49,462.10) rotate(-89.8)" font-size="7.95" fill="#000000" stroke="#000000" style="stroke-width:0.15px" text-anchor="end">PP (.75)</text>
<text transform="translate(94.62,462.10) rotate(-89.8)" font-size="7.95" fill="#000000" stroke="#000000" style="stroke-width:0.15px" text-anchor="end">BDB IG(1,1) W(2,2)</text>
<text transform="translate(102.75,462.10) rotate(-89.8)" font-size="7.95" fill="#000000" stroke="#000000" style="stroke-width:0.15px" text-anchor="end">BDB IG(1,.001) W(2,2)</text>
<text transform="translate(110.88,462.10) rotate(-89.8)" font-size="7.95" fill="#000000" stroke="#000000" style="stroke-width:0.15px" text-anchor="end">BDB IG(1,1) W(2,20)</text>
<text transform="translate(119.01,462.10) rotate(-89.8)" font-size="7.95" fill="#000000" stroke="#000000" style="stroke-width:0.15px" text-anchor="end">BDB IG(1,.001) W(2,20)</text>
<text transform="translate(127.14,462.10) rotate(-89.8)" font-size="7.95" fill="#000000" stroke="#000000" style="stroke-width:0.15px" text-anchor="end">BDB IG(1,1) W(20,2)</text>
<text transform="translate(135.26,462.10) rotate(-89.8)" font-size="7.95" fill="#000000" stroke="#000000" style="stroke-width:0.15px" text-anchor="end">BDB IG(1,.001) W(20,2)</text>
<text transform="translate(143.39,462.10) rotate(-89.8)" font-size="7.95" fill="#000000" stroke="#000000" style="stroke-width:0.15px" text-anchor="end">BDB IG(1,1) W(20,20)</text>
<text transform="translate(151.52,462.10) rotate(-89.8)" font-size="7.95" fill="#000000" stroke="#000000" style="stroke-width:0.15px" text-anchor="end">BDB IG(1,.001) W(20,20)</text>
<text transform="translate(159.65,462.10) rotate(-89.8)" font-size="7.95" fill="#000000" stroke="#000000" style="stroke-width:0.15px" text-anchor="end">CP W2,W2</text>
<path d="M42.85 457.30V459.90M50.98 457.30V459.90M59.11 457.30V459.90M67.24 457.30V459.90M75.36 457.30V459.90M83.49 457.30V459.90M91.62 457.30V459.90M99.75 457.30V459.90M107.88 457.30V459.90M116.01 457.30V459.90M124.14 457.30V459.90M132.26 457.30V459.90M140.39 457.30V459.90M148.52 457.30V459.90M156.65 457.30V459.90" stroke="#333333" stroke-width="1" fill="none"/>
<text transform="translate(174.40,462.10) rotate(-89.8)" font-size="7.95" fill="#000000" stroke="#000000" style="stroke-width:0.15px" text-anchor="end">BLR non−informative</text>
<text transform="translate(182.54,462.10) rotate(-89.8)" font-size="7.95" fill="#000000" stroke="#000000" style="stroke-width:0.15px" text-anchor="end">BLR−AGDP</text>
<text transform="translate(190.67,462.10) rotate(-89.8)" font-size="7.95" fill="#000000" stroke="#000000" style="stroke-width:0.15px" text-anchor="end">BLR pooling</text>
<text transform="translate(198.81,462.10) rotate(-89.8)" font-size="7.95" fill="#000000" stroke="#000000" style="stroke-width:0.15px" text-anchor="end">PP (.25)</text>
<text transform="translate(206.94,462.10) rotate(-89.8)" font-size="7.95" fill="#000000" stroke="#000000" style="stroke-width:0.15px" text-anchor="end">PP (.5)</text>
<text transform="translate(215.08,462.10) rotate(-89.8)" font-size="7.95" fill="#000000" stroke="#000000" style="stroke-width:0.15px" text-anchor="end">PP (.75)</text>
<text transform="translate(223.21,462.10) rotate(-89.8)" font-size="7.95" fill="#000000" stroke="#000000" style="stroke-width:0.15px" text-anchor="end">BDB IG(1,1) W(2,2)</text>
<text transform="translate(231.35,462.10) rotate(-89.8)" font-size="7.95" fill="#000000" stroke="#000000" style="stroke-width:0.15px" text-anchor="end">BDB IG(1,.001) W(2,2)</text>
<text transform="translate(239.49,462.10) rotate(-89.8)" font-size="7.95" fill="#000000" stroke="#000000" style="stroke-width:0.15px" text-anchor="end">BDB IG(1,1) W(2,20)</text>
<text transform="translate(247.62,462.10) rotate(-89.8)" font-size="7.95" fill="#000000" stroke="#000000" style="stroke-width:0.15px" text-anchor="end">BDB IG(1,.001) W(2,20)</text>
<text transform="translate(255.76,462.10) rotate(-89.8)" font-size="7.95" fill="#000000" stroke="#000000" style="stroke-width:0.15px" text-anchor="end">BDB IG(1,1) W(20,2)</text>
<text transform="translate(263.89,462.10) rotate(-89.8)" font-size="7.95" fill="#000000" stroke="#000000" style="stroke-width:0.15px" text-anchor="end">BDB IG(1,.001) W(20,2)</text>
<text transform="translate(272.03,462.10) rotate(-89.8)" font-size="7.95" fill="#000000" stroke="#000000" style="stroke-width:0.15px" text-anchor="end">BDB IG(1,1) W(20,20)</text>
<text transform="translate(280.16,462.10) rotate(-89.8)" font-size="7.95" fill="#000000" stroke="#000000" style="stroke-width:0.15px" text-anchor="end">BDB IG(1,.001) W(20,20)</text>
<text transform="translate(288.30,462.10) rotate(-89.8)" font-size="7.95" fill="#000000" stroke="#000000" style="stroke-width:0.15px" text-anchor="end">CP W2,W2</text>
<path d="M171.40 457.30V459.90M179.54 457.30V459.90M187.67 457.30V459.90M195.81 457.30V459.90M203.94 457.30V459.90M212.08 457.30V459.90M220.21 457.30V459.90M228.35 457.30V459.90M236.49 457.30V459.90M244.62 457.30V459.90M252.76 457.30V459.90M260.89 457.30V459.90M269.03 457.30V459.90M277.16 457.30V459.90M285.30 457.30V459.90" stroke="#333333" stroke-width="1" fill="none"/>
<text transform="translate(302.85,462.10) rotate(-89.8)" font-size="7.95" fill="#000000" stroke="#000000" style="stroke-width:0.15px" text-anchor="end">BLR non−informative</text>
<text transform="translate(310.98,462.10) rotate(-89.8)" font-size="7.95" fill="#000000" stroke="#000000" style="stroke-width:0.15px" text-anchor="end">BLR−AGDP</text>
<text transform="translate(319.11,462.10) rotate(-89.8)" font-size="7.95" fill="#000000" stroke="#000000" style="stroke-width:0.15px" text-anchor="end">BLR pooling</text>
<text transform="translate(327.24,462.10) rotate(-89.8)" font-size="7.95" fill="#000000" stroke="#000000" style="stroke-width:0.15px" text-anchor="end">PP (.25)</text>
<text transform="translate(335.36,462.10) rotate(-89.8)" font-size="7.95" fill="#000000" stroke="#000000" style="stroke-width:0.15px" text-anchor="end">PP (.5)</text>
<text transform="translate(343.49,462.10) rotate(-89.8)" font-size="7.95" fill="#000000" stroke="#000000" style="stroke-width:0.15px" text-anchor="end">PP (.75)</text>
<text transform="translate(351.62,462.10) rotate(-89.8)" font-size="7.95" fill="#000000" stroke="#000000" style="stroke-width:0.15px" text-anchor="end">BDB IG(1,1) W(2,2)</text>
<text transform="translate(359.75,462.10) rotate(-89.8)" font-size="7.95" fill="#000000" stroke="#000000" style="stroke-width:0.15px" text-anchor="end">BDB IG(1,.001) W(2,2)</text>
<text transform="translate(367.88,462.10) rotate(-89.8)" font-size="7.95" fill="#000000" stroke="#000000" style="stroke-width:0.15px" text-anchor="end">BDB IG(1,1) W(2,20)</text>
<text transform="translate(376.01,462.10) rotate(-89.8)" font-size="7.95" fill="#000000" stroke="#000000" style="stroke-width:0.15px" text-anchor="end">BDB IG(1,.001) W(2,20)</text>
<text transform="translate(384.14,462.10) rotate(-89.8)" font-size="7.95" fill="#000000" stroke="#000000" style="stroke-width:0.15px" text-anchor="end">BDB IG(1,1) W(20,2)</text>
<text transform="translate(392.26,462.10) rotate(-89.8)" font-size="7.95" fill="#000000" stroke="#000000" style="stroke-width:0.15px" text-anchor="end">BDB IG(1,.001) W(20,2)</text>
<text transform="translate(400.39,462.10) rotate(-89.8)" font-size="7.95" fill="#000000" stroke="#000000" style="stroke-width:0.15px" text-anchor="end">BDB IG(1,1) W(20,20)</text>
<text transform="translate(408.52,462.10) rotate(-89.8)" font-size="7.95" fill="#000000" stroke="#000000" style="stroke-width:0.15px" text-anchor="end">BDB IG(1,.001) W(20,20)</text>
<text transform="translate(416.65,462.10) rotate(-89.8)" font-size="7.95" fill="#000000" stroke="#000000" style="stroke-width:0.15px" text-anchor="end">CP W2,W2</text>
<path d="M299.85 457.30V459.90M307.98 457.30V459.90M316.11 457.30V459.90M324.24 457.30V459.90M332.36 457.30V459.90M340.49 457.30V459.90M348.62 457.30V459.90M356.75 457.30V459.90M364.88 457.30V459.90M373.01 457.30V459.90M381.14 457.30V459.90M389.26 457.30V459.90M397.39 457.30V459.90M405.52 457.30V459.90M413.65 457.30V459.90" stroke="#333333" stroke-width="1" fill="none"/>
<text transform="translate(431.40,462.10) rotate(-89.8)" font-size="7.95" fill="#000000" stroke="#000000" style="stroke-width:0.15px" text-anchor="end">BLR non−informative</text>
<text transform="translate(439.52,462.10) rotate(-89.8)" font-size="7.95" fill="#000000" stroke="#000000" style="stroke-width:0.15px" text-anchor="end">BLR−AGDP</text>
<text transform="translate(447.64,462.10) rotate(-89.8)" font-size="7.95" fill="#000000" stroke="#000000" style="stroke-width:0.15px" text-anchor="end">BLR pooling</text>
<text transform="translate(455.76,462.10) rotate(-89.8)" font-size="7.95" fill="#000000" stroke="#000000" style="stroke-width:0.15px" text-anchor="end">PP (.25)</text>
<text transform="translate(463.89,462.10) rotate(-89.8)" font-size="7.95" fill="#000000" stroke="#000000" style="stroke-width:0.15px" text-anchor="end">PP (.5)</text>
<text transform="translate(472.01,462.10) rotate(-89.8)" font-size="7.95" fill="#000000" stroke="#000000" style="stroke-width:0.15px" text-anchor="end">PP (.75)</text>
<text transform="translate(480.13,462.10) rotate(-89.8)" font-size="7.95" fill="#000000" stroke="#000000" style="stroke-width:0.15px" text-anchor="end">BDB IG(1,1) W(2,2)</text>
<text transform="translate(488.25,462.10) rotate(-89.8)" font-size="7.95" fill="#000000" stroke="#000000" style="stroke-width:0.15px" text-anchor="end">BDB IG(1,.001) W(2,2)</text>
<text transform="translate(496.37,462.10) rotate(-89.8)" font-size="7.95" fill="#000000" stroke="#000000" style="stroke-width:0.15px" text-anchor="end">BDB IG(1,1) W(2,20)</text>
<text transform="translate(504.49,462.10) rotate(-89.8)" font-size="7.95" fill="#000000" stroke="#000000" style="stroke-width:0.15px" text-anchor="end">BDB IG(1,.001) W(2,20)</text>
<text transform="translate(512.61,462.10) rotate(-89.8)" font-size="7.95" fill="#000000" stroke="#000000" style="stroke-width:0.15px" text-anchor="end">BDB IG(1,1) W(20,2)</text>
<text transform="translate(520.74,462.10) rotate(-89.8)" font-size="7.95" fill="#000000" stroke="#000000" style="stroke-width:0.15px" text-anchor="end">BDB IG(1,.001) W(20,2)</text>
<text transform="translate(528.86,462.10) rotate(-89.8)" font-size="7.95" fill="#000000" stroke="#000000" style="stroke-width:0.15px" text-anchor="end">BDB IG(1,1) W(20,20)</text>
<text transform="translate(536.98,462.10) rotate(-89.8)" font-size="7.95" fill="#000000" stroke="#000000" style="stroke-width:0.15px" text-anchor="end">BDB IG(1,.001) W(20,20)</text>
<text transform="translate(545.10,462.10) rotate(-89.8)" font-size="7.95" fill="#000000" stroke="#000000" style="stroke-width:0.15px" text-anchor="end">CP W2,W2</text>
<path d="M428.40 457.30V459.90M436.52 457.30V459.90M444.64 457.30V459.90M452.76 457.30V459.90M460.89 457.30V459.90M469.01 457.30V459.90M477.13 457.30V459.90M485.25 457.30V459.90M493.37 457.30V459.90M501.49 457.30V459.90M509.61 457.30V459.90M517.74 457.30V459.90M525.86 457.30V459.90M533.98 457.30V459.90M542.10 457.30V459.90" stroke="#333333" stroke-width="1" fill="none"/>
<text transform="translate(292.65,560.7) rotate(0.1)" font-size="9.65" fill="#000" stroke="#000" text-anchor="middle">Method</text>
<text transform="translate(7.2,236.45) rotate(-89.8)" font-size="9.65" fill="#000" stroke="#000" text-anchor="middle">Value</text>
<text transform="translate(577.0,122.8) rotate(0.1)" font-size="9.65" fill="#000" stroke="#000">Method</text>
<g fill="none" stroke-width="1.05" stroke-linecap="round" stroke-linejoin="round">
<path d="M582.95 136.70a1.35 1.35 0 1 0 2.70 0a1.35 1.35 0 1 0 -2.70 0" stroke="#2A4CCB" stroke-width="1.0"/>
<text transform="translate(596.9,139.50) rotate(0.1)" font-size="7.95" fill="#000000" stroke="#000000">BLR non−informative</text>
<path d="M584.30 149.85L586.12 153.00L582.48 153.00Z" stroke="#2D5AD6" stroke-width="1.0"/>
<text transform="translate(596.9,154.75) rotate(0.1)" font-size="7.95" fill="#000000" stroke="#000000">BLR−AGDP</text>
<g stroke="#3670E6" stroke-width="1.0"><path d="M582.58 167.20L586.02 167.20"/><path d="M584.30 165.48L584.30 168.92"/></g>
<text transform="translate(596.9,170.00) rotate(0.1)" font-size="7.95" fill="#000000" stroke="#000000">BLR pooling</text>
<g stroke="#3A80F4" stroke-width="1.0"><path d="M582.95 181.10L585.65 183.80"/><path d="M582.95 183.80L585.65 181.10"/></g>
<text transform="translate(596.9,185.25) rotate(0.1)" font-size="7.95" fill="#000000" stroke="#000000">PP (.25)</text>
<path d="M582.58 197.70L584.30 195.98L586.02 197.70L584.30 199.42Z" stroke="#4A8EF7" stroke-width="1.0"/>
<text transform="translate(596.9,200.50) rotate(0.1)" font-size="7.95" fill="#000000" stroke="#000000">PP (.5)</text>
<path d="M584.30 214.94L586.03 211.95L582.57 211.95Z" stroke="#5E9CF8" stroke-width="1.0"/>
<text transform="translate(596.9,215.75) rotate(0.1)" font-size="7.95" fill="#000000" stroke="#000000">PP (.75)</text>
<g stroke="#A3C2FA" stroke-width="1.0"><path d="M582.95 226.85L585.65 226.85L585.65 229.55L582.95 229.55Z"/><path d="M582.95 226.85L585.65 229.55"/><path d="M582.95 229.55L585.65 226.85"/></g>
<text transform="translate(596.9,231.00) rotate(0.1)" font-size="7.95" fill="#000000" stroke="#000000">BDB IG(1,1) W(2,2)</text>
<g stroke="#CFDFF8" stroke-width="1.0"><path d="M582.95 242.10L585.65 244.80"/><path d="M582.95 244.80L585.65 242.10"/><path d="M582.39 243.45L586.21 243.45"/><path d="M584.30 241.54L584.30 245.36"/></g>
<text transform="translate(596.9,246.25) rotate(0.1)" font-size="7.95" fill="#000000" stroke="#000000">BDB IG(1,.001) W(2,2)</text>
<g stroke="#E8C3CE" stroke-width="1.0"><path d="M582.58 258.70L584.30 256.98L586.02 258.70L584.30 260.42Z"/><path d="M582.58 258.70L586.02 258.70"/><path d="M584.30 256.98L584.30 260.42"/></g>
<text transform="translate(596.9,261.50) rotate(0.1)" font-size="7.95" fill="#000000" stroke="#000000">BDB IG(1,1) W(2,20)</text>
<g stroke="#E0A8BB" stroke-width="1.0"><path d="M582.95 273.95a1.35 1.35 0 1 0 2.70 0a1.35 1.35 0 1 0 -2.70 0"/><path d="M582.95 273.95L585.65 273.95"/><path d="M584.30 272.60L584.30 275.30"/></g>
<text transform="translate(596.9,276.75) rotate(0.1)" font-size="7.95" fill="#000000" stroke="#000000">BDB IG(1,.001) W(2,20)</text>
<g stroke="#D892A9" stroke-width="1.0"><path d="M584.30 287.31L585.94 290.62L582.66 290.62Z"/><path d="M584.30 291.09L585.94 287.78L582.66 287.78Z"/></g>
<text transform="translate(596.9,292.00) rotate(0.1)" font-size="7.95" fill="#000000" stroke="#000000">BDB IG(1,1) W(20,2)</text>
<g stroke="#D47493" stroke-width="1.0"><path d="M582.95 303.10L585.65 303.10L585.65 305.80L582.95 305.80Z"/><path d="M582.95 304.45L585.65 304.45"/><path d="M584.30 303.10L584.30 305.80"/></g>
<text transform="translate(596.9,307.25) rotate(0.1)" font-size="7.95" fill="#000000" stroke="#000000">BDB IG(1,.001) W(20,2)</text>
<g stroke="#C95475" stroke-width="1.0"><path d="M582.95 319.70a1.35 1.35 0 1 0 2.70 0a1.35 1.35 0 1 0 -2.70 0"/><path d="M582.95 318.35L585.65 321.05"/><path d="M582.95 321.05L585.65 318.35"/></g>
<text transform="translate(596.9,322.50) rotate(0.1)" font-size="7.95" fill="#000000" stroke="#000000">BDB IG(1,1) W(20,20)</text>
<g stroke="#C1345E" stroke-width="1.0"><path d="M582.95 333.60L585.65 333.60L585.65 336.30L582.95 336.30Z"/><path d="M584.30 333.60L585.65 336.30L582.95 336.30Z"/></g>
<text transform="translate(596.9,337.75) rotate(0.1)" font-size="7.95" fill="#000000" stroke="#000000">BDB IG(1,.001) W(20,20)</text>
<rect x="582.81" y="348.71" width="2.97" height="2.97" fill="#BE0032"/>
<text transform="translate(596.9,353.00) rotate(0.1)" font-size="7.95" fill="#000000" stroke="#000000">CP W2,W2</text>
</g>
</svg></body></html>
